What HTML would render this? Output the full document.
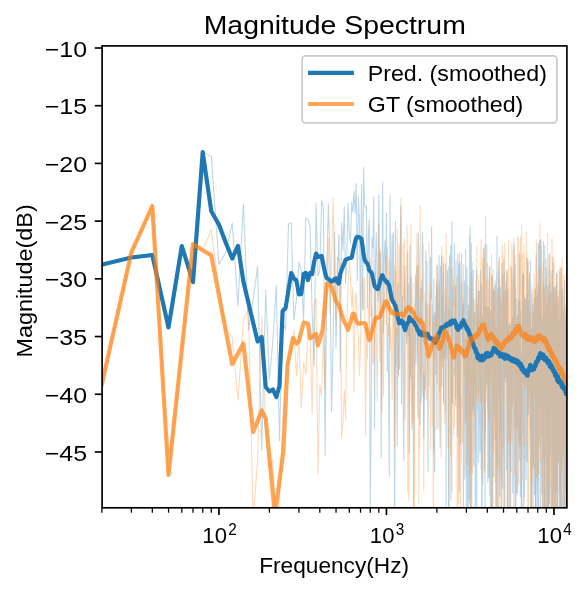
<!DOCTYPE html>
<html><head><meta charset="utf-8"><style>
html,body{margin:0;padding:0;background:#fff;width:587px;height:591px;overflow:hidden}
svg{display:block;will-change:transform}
.t{font-family:"Liberation Sans",sans-serif;font-size:22.1px;fill:#000}
.ts{font-family:"Liberation Sans",sans-serif;font-size:16.5px;fill:#000}
.title{font-family:"Liberation Sans",sans-serif;font-size:26.5px;fill:#000}
</style></head><body>
<svg width="587" height="591" viewBox="0 0 587 591">
<defs><clipPath id="ax"><rect x="102.1" y="45.9" width="464.8" height="461.9"/></clipPath></defs>
<g clip-path="url(#ax)">
<path d="M51.5 264.6 L101.9 264.6 L131.4 257.5 L152.3 255.0 L168.5 327.5 L181.8 246.0 L193.0 282.0 L202.7 152.1 L211.3 156.4 L219.0 264.4 L225.9 252.0 L232.2 223.1 L238.0 305.8 L243.4 203.9 L248.5 330.0 L253.2 300.0 L257.6 266.4 L261.7 449.9 L265.7 290.1 L269.4 380.0 L272.9 340.0 L276.3 285.5 L279.5 440.8 L282.6 320.0 L285.6 330.0 L288.5 224.0 L291.2 222.7 L293.9 320.0 L296.4 300.0 L298.9 262.0 L301.3 269.7 L303.6 321.1 L305.8 217.6 L308.0 219.3 L310.1 226.9 L312.1 311.1 L314.1 365.8 L316.1 203.2 L318.0 276.4 L319.8 270.0 L321.6 199.9 L323.4 208.3 L325.1 455.0 L326.7 272.7 L328.4 203.7 L330.0 257.5 L331.5 411.8 L333.1 344.6 L334.6 232.2 L336.0 348.0 L337.5 275.5 L338.9 234.5 L340.3 371.3 L341.6 222.7 L343.0 250.3 L344.3 207.1 L345.6 283.5 L346.8 259.8 L348.1 203.3 L349.3 232.1 L350.5 243.3 L351.7 202.1 L352.8 212.2 L354.0 191.4 L355.1 213.2 L356.2 183.6 L357.3 280.6 L358.4 197.8 L359.5 222.8 L360.5 324.2 L361.5 183.9 L362.6 309.2 L363.6 167.4 L364.6 204.6 L365.5 208.2 L366.5 206.2 L367.4 308.6 L368.4 231.3 L369.3 219.9 L370.2 505.9 L371.1 426.5 L372.0 237.5 L372.9 248.0 L373.8 196.6 L374.6 428.4 L375.5 261.5 L376.3 232.5 L377.2 280.7 L378.0 301.5 L378.8 194.9 L379.6 292.0 L380.4 252.4 L381.2 458.0 L382.0 291.0 L382.7 182.3 L383.5 332.2 L384.2 256.4 L385.0 240.8 L385.7 272.3 L386.5 212.3 L387.2 371.6 L387.9 323.9 L388.6 383.4 L389.3 476.4 L390.0 194.4 L390.7 300.5 L391.4 283.6 L392.1 234.3 L392.7 300.7 L393.4 232.1 L394.1 371.8 L394.7 572.2 L395.4 221.1 L396.0 363.9 L396.6 328.4 L397.3 445.5 L397.9 283.2 L398.5 374.8 L399.1 315.4 L399.7 368.8 L400.3 244.6 L400.9 206.1 L401.5 403.8 L402.1 316.2 L402.7 296.1 L403.3 419.7 L403.8 460.3 L404.4 288.0 L405.0 266.0 L405.5 324.1 L406.1 332.2 L406.7 343.8 L407.2 325.9 L407.8 252.1 L408.3 335.7 L408.8 283.7 L409.4 453.0 L409.9 245.1 L410.4 378.3 L410.9 277.1 L411.5 367.8 L412.0 429.0 L412.5 331.0 L413.0 318.3 L413.5 508.9 L414.0 386.6 L414.5 387.4 L415.0 325.5 L415.5 275.1 L416.0 364.0 L416.4 299.7 L416.9 265.7 L417.4 335.8 L417.9 417.3 L418.3 232.7 L418.8 257.0 L419.3 336.9 L419.7 313.4 L420.2 425.0 L420.7 288.1 L421.1 402.7 L421.6 385.7 L422.0 319.4 L422.4 232.1 L422.9 396.5 L423.3 372.1 L423.8 437.2 L424.2 375.5 L424.6 400.2 L425.1 375.0 L425.5 311.8 L425.9 250.6 L426.3 343.8 L426.8 261.3 L427.2 327.7 L427.6 360.0 L428.0 471.9 L428.4 384.6 L428.8 349.2 L429.2 332.5 L429.6 303.8 L430.0 333.1 L430.4 257.4 L430.8 276.1 L431.2 298.3 L431.6 227.1 L432.0 300.5 L432.4 304.9 L432.8 352.4 L433.2 317.5 L433.5 450.4 L433.9 278.5 L434.3 458.2 L434.7 471.9 L435.0 312.7 L435.4 325.5 L435.8 374.4 L436.2 311.5 L436.5 284.3 L436.9 428.8 L437.2 265.6 L437.6 310.5 L438.0 335.7 L438.3 301.8 L438.7 307.7 L439.0 255.6 L439.4 316.7 L439.7 372.5 L440.1 446.7 L440.4 266.0 L440.8 361.1 L441.1 278.8 L441.5 255.5 L441.8 386.0 L442.1 294.5 L442.5 356.8 L442.8 325.5 L443.2 272.9 L443.5 403.8 L443.8 263.7 L444.1 355.7 L444.5 320.8 L444.8 358.6 L445.1 310.8 L445.5 352.3 L445.8 263.4 L446.1 522.4 L446.4 359.8 L446.7 303.2 L447.0 323.3 L447.4 271.0 L447.7 350.6 L448.0 357.5 L448.3 266.4 L448.6 555.7 L448.9 347.6 L449.2 309.5 L449.5 310.2 L449.8 327.8 L450.1 256.4 L450.4 308.6 L450.7 245.3 L451.0 500.2 L451.3 393.5 L451.6 297.0 L451.9 221.4 L452.2 386.5 L452.5 403.5 L452.8 376.7 L453.1 287.2 L453.4 305.2 L453.7 279.0 L454.0 296.1 L454.3 243.0 L454.6 308.3 L454.8 374.6 L455.1 285.1 L455.4 358.1 L455.7 406.3 L456.0 260.8 L456.2 346.1 L456.5 336.1 L456.8 332.4 L457.1 367.0 L457.4 436.7 L457.6 362.3 L457.9 254.0 L458.2 352.2 L458.4 398.6 L458.7 264.3 L459.0 443.8 L459.3 492.1 L459.5 400.7 L459.8 262.1 L460.0 291.4 L460.3 443.8 L460.6 399.4 L460.8 391.5 L461.1 295.3 L461.4 270.2 L461.6 253.5 L461.9 328.0 L462.1 306.5 L462.4 313.5 L462.6 350.6 L462.9 316.0 L463.2 303.8 L463.4 535.7 L463.7 411.8 L463.9 299.8 L464.2 479.5 L464.4 280.8 L464.7 350.4 L464.9 291.5 L465.2 348.0 L465.4 422.9 L465.6 249.4 L465.9 335.8 L466.1 348.7 L466.4 508.4 L466.6 309.6 L466.9 267.4 L467.1 371.2 L467.3 318.3 L467.6 551.6 L467.8 416.2 L468.1 513.0 L468.3 340.0 L468.5 305.4 L468.8 316.2 L469.0 500.3 L469.2 465.8 L469.5 235.3 L469.7 422.3 L469.9 473.0 L470.2 227.0 L470.4 293.6 L470.6 282.1 L470.8 623.9 L471.1 465.6 L471.3 243.5 L471.5 279.0 L471.8 507.0 L472.0 261.7 L472.2 289.6 L472.4 410.6 L472.6 411.3 L472.9 350.0 L473.1 406.9 L473.3 270.1 L473.5 364.9 L473.8 465.8 L474.0 327.0 L474.2 357.1 L474.4 312.5 L474.6 313.3 L474.8 364.5 L475.1 404.6 L475.3 568.4 L475.5 482.0 L475.7 303.8 L475.9 377.1 L476.1 280.5 L476.3 394.3 L476.5 270.1 L476.8 572.6 L477.0 414.3 L477.2 376.6 L477.4 312.8 L477.6 364.0 L477.8 304.5 L478.0 305.3 L478.2 319.1 L478.4 291.0 L478.6 462.1 L478.8 299.0 L479.0 424.8 L479.2 323.4 L479.4 291.3 L479.6 325.6 L479.8 353.3 L480.0 452.1 L480.2 395.6 L480.4 270.4 L480.6 414.0 L480.8 421.3 L481.0 422.2 L481.2 469.5 L481.4 443.5 L481.6 283.4 L481.8 664.7 L482.0 414.0 L482.2 505.1 L482.4 316.1 L482.6 434.6 L482.8 484.8 L483.0 451.7 L483.2 398.0 L483.4 315.1 L483.6 247.8 L483.8 398.5 L484.0 312.0 L484.1 410.1 L484.3 351.0 L484.5 468.2 L484.7 346.9 L484.9 244.6 L485.1 512.9 L485.3 335.2 L485.5 441.2 L485.6 417.7 L485.8 386.1 L486.0 305.4 L486.2 326.7 L486.4 363.0 L486.6 329.3 L486.8 244.8 L486.9 380.2 L487.1 384.2 L487.3 378.4 L487.5 307.6 L487.7 423.2 L487.8 482.2 L488.0 379.0 L488.2 307.1 L488.4 312.5 L488.6 477.7 L488.7 339.9 L488.9 477.4 L489.1 419.3 L489.3 288.5 L489.5 405.9 L489.6 266.6 L489.8 495.1 L490.0 342.2 L490.2 362.1 L490.3 392.2 L490.5 527.9 L490.7 311.4 L490.9 434.9 L491.0 419.1 L491.2 331.6 L491.4 312.1 L491.5 514.8 L491.7 275.2 L491.9 304.6 L492.1 299.6 L492.2 371.9 L492.4 276.3 L492.6 341.1 L492.7 412.2 L492.9 527.6 L493.1 351.4 L493.2 288.4 L493.4 368.0 L493.6 476.6 L493.7 401.2 L493.9 372.3 L494.1 297.6 L494.2 291.1 L494.4 371.6 L494.6 300.6 L494.7 414.2 L494.9 338.8 L495.1 394.6 L495.2 439.0 L495.4 284.5 L495.5 335.6 L495.7 289.5 L495.9 515.6 L496.0 372.7 L496.2 532.9 L496.4 289.1 L496.5 272.2 L496.7 326.2 L496.8 316.5 L497.0 235.9 L497.2 371.8 L497.3 458.6 L497.5 507.5 L497.6 550.2 L497.8 335.6 L497.9 288.2 L498.1 560.7 L498.3 294.9 L498.4 339.0 L498.6 373.4 L498.7 269.0 L498.9 364.4 L499.0 307.5 L499.2 394.4 L499.3 257.3 L499.5 404.2 L499.7 497.1 L499.8 484.1 L500.0 369.3 L500.1 377.4 L500.3 293.3 L500.4 286.6 L500.6 370.8 L500.7 302.1 L500.9 388.7 L501.0 437.6 L501.2 391.6 L501.3 476.3 L501.5 345.9 L501.6 473.7 L501.8 580.4 L501.9 263.2 L502.1 378.4 L502.2 333.1 L502.4 282.4 L502.5 422.4 L502.7 489.2 L502.8 369.2 L503.0 274.7 L503.1 430.2 L503.2 287.7 L503.4 401.2 L503.5 319.8 L503.7 296.0 L503.8 259.3 L504.0 736.2 L504.1 397.2 L504.3 271.7 L504.4 373.7 L504.5 381.9 L504.7 375.4 L504.8 356.7 L505.0 313.3 L505.1 376.9 L505.3 353.2 L505.4 311.6 L505.5 291.3 L505.7 299.6 L505.8 346.0 L506.0 323.1 L506.1 382.5 L506.3 354.4 L506.4 279.9 L506.5 299.9 L506.7 469.4 L506.8 347.6 L506.9 274.6 L507.1 269.4 L507.2 448.1 L507.4 382.9 L507.5 521.1 L507.6 338.4 L507.8 290.6 L507.9 498.4 L508.1 518.4 L508.2 461.1 L508.3 369.5 L508.5 353.5 L508.6 361.1 L508.7 365.7 L508.9 325.8 L509.0 385.7 L509.1 352.4 L509.3 323.0 L509.4 459.2 L509.5 334.1 L509.7 515.1 L509.8 523.0 L509.9 518.6 L510.1 325.1 L510.2 485.1 L510.3 347.4 L510.5 430.5 L510.6 331.3 L510.7 390.2 L510.9 471.6 L511.0 429.0 L511.1 381.9 L511.3 426.1 L511.4 354.8 L511.5 322.9 L511.7 366.9 L511.8 268.3 L511.9 303.5 L512.0 283.9 L512.2 340.0 L512.3 403.3 L512.4 327.4 L512.6 369.6 L512.7 382.5 L512.8 492.9 L512.9 319.8 L513.1 393.3 L513.2 317.0 L513.3 386.4 L513.5 329.4 L513.6 364.1 L513.7 323.7 L513.8 275.7 L514.0 560.8 L514.1 330.8 L514.2 245.1 L514.3 345.0 L514.5 316.0 L514.6 379.7 L514.7 426.8 L514.8 308.6 L515.0 264.4 L515.1 358.9 L515.2 283.1 L515.3 425.6 L515.5 337.3 L515.6 344.6 L515.7 524.5 L515.8 522.1 L515.9 299.9 L516.1 298.5 L516.2 495.1 L516.3 487.7 L516.4 362.3 L516.6 334.0 L516.7 341.3 L516.8 478.0 L516.9 462.7 L517.0 451.1 L517.2 442.9 L517.3 492.8 L517.4 314.8 L517.5 339.2 L517.6 493.1 L517.8 472.4 L517.9 390.2 L518.0 319.4 L518.1 403.9 L518.2 446.7 L518.4 302.6 L518.5 322.8 L518.6 371.6 L518.7 299.4 L518.8 372.4 L519.0 443.4 L519.1 343.0 L519.2 359.8 L519.3 299.9 L519.4 379.9 L519.5 459.7 L519.7 337.0 L519.8 255.0 L519.9 331.0 L520.0 385.8 L520.1 310.4 L520.2 372.4 L520.3 496.8 L520.5 370.3 L520.6 333.7 L520.7 377.1 L520.8 311.3 L520.9 452.1 L521.0 358.2 L521.2 490.4 L521.3 447.2 L521.4 517.5 L521.5 372.0 L521.6 355.1 L521.7 459.4 L521.8 442.7 L521.9 364.9 L522.1 435.2 L522.2 362.9 L522.3 353.2 L522.4 399.5 L522.5 275.5 L522.6 402.5 L522.7 287.7 L522.8 318.2 L523.0 302.6 L523.1 338.3 L523.2 601.2 L523.3 442.7 L523.4 273.3 L523.5 281.1 L523.6 274.8 L523.7 737.3 L523.8 423.9 L524.0 296.0 L524.1 424.0 L524.2 495.3 L524.3 384.6 L524.4 382.9 L524.5 362.6 L524.6 496.8 L524.7 316.8 L524.8 336.9 L524.9 428.3 L525.0 408.9 L525.2 299.2 L525.3 402.8 L525.4 436.2 L525.5 460.8 L525.6 364.1 L525.7 344.8 L525.8 376.7 L525.9 315.2 L526.0 397.3 L526.1 479.8 L526.2 334.7 L526.3 294.6 L526.4 322.9 L526.5 354.4 L526.7 421.5 L526.8 361.3 L526.9 462.2 L527.0 426.5 L527.1 258.1 L527.2 461.3 L527.3 372.2 L527.4 325.0 L527.5 417.5 L527.6 333.7 L527.7 391.3 L527.8 257.7 L527.9 366.7 L528.0 282.7 L528.1 305.9 L528.2 387.4 L528.3 408.6 L528.4 313.0 L528.5 299.9 L528.6 414.3 L528.7 375.5 L528.8 399.8 L528.9 377.1 L529.0 351.4 L529.1 392.2 L529.3 366.8 L529.4 339.5 L529.5 320.7 L529.6 273.1 L529.7 325.3 L529.8 314.8 L529.9 380.8 L530.0 338.1 L530.1 324.6 L530.2 428.6 L530.3 259.9 L530.4 340.5 L530.5 329.9 L530.6 345.3 L530.7 472.7 L530.8 282.8 L530.9 382.8 L531.0 417.7 L531.1 546.9 L531.2 345.7 L531.3 416.2 L531.4 440.5 L531.5 514.4 L531.6 583.5 L531.7 550.5 L531.8 328.3 L531.9 554.9 L532.0 564.0 L532.1 444.4 L532.2 330.5 L532.3 427.2 L532.4 453.0 L532.4 378.5 L532.5 330.6 L532.6 318.1 L532.7 304.2 L532.8 370.7 L532.9 394.4 L533.0 408.2 L533.1 466.7 L533.2 324.9 L533.3 311.8 L533.4 339.4 L533.5 409.1 L533.6 315.0 L533.7 458.1 L533.8 318.7 L533.9 347.0 L534.0 411.3 L534.1 467.2 L534.2 298.0 L534.3 494.5 L534.4 414.1 L534.5 340.5 L534.6 338.7 L534.7 486.8 L534.8 395.7 L534.9 441.7 L534.9 376.5 L535.0 400.6 L535.1 334.9 L535.2 289.7 L535.3 338.7 L535.4 517.8 L535.5 334.4 L535.6 381.0 L535.7 429.7 L535.8 292.9 L535.9 325.6 L536.0 595.0 L536.1 284.4 L536.2 253.7 L536.3 490.2 L536.4 322.7 L536.4 409.4 L536.5 379.2 L536.6 367.6 L536.7 413.9 L536.8 311.9 L536.9 441.9 L537.0 393.4 L537.1 369.2 L537.2 358.1 L537.3 296.9 L537.4 362.6 L537.5 340.7 L537.5 570.4 L537.6 391.8 L537.7 292.4 L537.8 292.9 L537.9 431.7 L538.0 283.8 L538.1 356.0 L538.2 306.8 L538.3 313.4 L538.4 474.0 L538.5 712.1 L538.5 316.3 L538.6 243.4 L538.7 395.5 L538.8 449.0 L538.9 398.5 L539.0 301.1 L539.1 291.3 L539.2 404.8 L539.3 270.4 L539.3 293.1 L539.4 397.2 L539.5 373.4 L539.6 240.9 L539.7 304.0 L539.8 339.6 L539.9 240.4 L540.0 295.7 L540.1 442.2 L540.1 319.5 L540.2 315.6 L540.3 548.4 L540.4 321.1 L540.5 239.6 L540.6 337.8 L540.7 633.0 L540.8 305.6 L540.8 340.3 L540.9 239.9 L541.0 335.8 L541.1 426.5 L541.2 291.6 L541.3 344.5 L541.4 304.4 L541.4 477.0 L541.5 318.8 L541.6 365.7 L541.7 396.5 L541.8 410.9 L541.9 331.5 L542.0 493.8 L542.1 365.7 L542.1 333.3 L542.2 486.9 L542.3 431.7 L542.4 317.6 L542.5 331.6 L542.6 354.1 L542.6 367.3 L542.7 383.1 L542.8 336.7 L542.9 358.7 L543.0 605.3 L543.1 271.6 L543.2 304.0 L543.2 302.7 L543.3 385.7 L543.4 241.4 L543.5 322.1 L543.6 403.8 L543.7 287.9 L543.7 591.9 L543.8 404.7 L543.9 400.5 L544.0 536.0 L544.1 451.8 L544.2 452.9 L544.2 384.1 L544.3 385.9 L544.4 376.2 L544.5 312.6 L544.6 339.0 L544.7 334.3 L544.7 391.1 L544.8 245.3 L544.9 563.9 L545.0 342.3 L545.1 384.1 L545.2 586.5 L545.2 458.4 L545.3 399.5 L545.4 605.2 L545.5 317.9 L545.6 470.8 L545.6 513.5 L545.7 509.5 L545.8 380.4 L545.9 473.7 L546.0 322.7 L546.1 277.9 L546.1 411.9 L546.2 268.0 L546.3 340.3 L546.4 449.5 L546.5 564.4 L546.5 358.8 L546.6 431.7 L546.7 364.4 L546.8 410.4 L546.9 350.7 L546.9 310.9 L547.0 313.5 L547.1 585.7 L547.2 373.7 L547.3 452.8 L547.3 304.7 L547.4 445.4 L547.5 525.6 L547.6 394.7 L547.7 361.6 L547.7 286.1 L547.8 317.7 L547.9 326.9 L548.0 321.9 L548.1 358.4 L548.1 350.4 L548.2 365.7 L548.3 332.9 L548.4 368.1 L548.4 381.6 L548.5 560.1 L548.6 627.6 L548.7 382.8 L548.8 357.9 L548.8 270.7 L548.9 447.1 L549.0 440.4 L549.1 265.5 L549.1 306.6 L549.2 254.7 L549.3 267.7 L549.4 399.0 L549.5 396.6 L549.5 458.3 L549.6 314.4 L549.7 349.0 L549.8 503.8 L549.8 299.7 L549.9 432.3 L550.0 283.6 L550.1 429.9 L550.2 373.2 L550.2 313.2 L550.3 387.9 L550.4 361.7 L550.5 383.6 L550.5 455.3 L550.6 323.5 L550.7 361.2 L550.8 362.6 L550.8 293.5 L550.9 297.2 L551.0 356.3 L551.1 391.0 L551.1 357.2 L551.2 387.9 L551.3 400.7 L551.4 558.7 L551.4 311.6 L551.5 350.1 L551.6 290.9 L551.7 361.2 L551.7 420.9 L551.8 379.5 L551.9 274.6 L552.0 532.6 L552.0 402.3 L552.1 329.4 L552.2 381.6 L552.3 270.1 L552.3 397.9 L552.4 339.3 L552.5 377.6 L552.6 380.6 L552.6 461.5 L552.7 419.5 L552.8 383.1 L552.9 256.7 L552.9 315.6 L553.0 327.3 L553.1 609.2 L553.2 288.2 L553.2 455.3 L553.3 396.3 L553.4 339.0 L553.4 329.1 L553.5 324.0 L553.6 287.8 L553.7 622.9 L553.7 382.7 L553.8 492.1 L553.9 368.3 L554.0 362.4 L554.0 315.0 L554.1 317.2 L554.2 559.8 L554.3 348.2 L554.3 363.5 L554.4 406.1 L554.5 385.3 L554.5 292.0 L554.6 373.9 L554.7 287.3 L554.8 383.1 L554.8 412.5 L554.9 306.9 L555.0 491.0 L555.0 362.3 L555.1 431.2 L555.2 430.7 L555.3 445.9 L555.3 289.9 L555.4 616.5 L555.5 316.8 L555.5 328.9 L555.6 331.8 L555.7 332.2 L555.8 307.0 L555.8 396.0 L555.9 473.0 L556.0 364.3 L556.0 360.7 L556.1 360.4 L556.2 285.8 L556.3 387.9 L556.3 423.3 L556.4 355.2 L556.5 492.1 L556.5 327.6 L556.6 458.3 L556.7 468.2 L556.7 273.5 L556.8 323.7 L556.9 427.2 L557.0 444.7 L557.0 714.7 L557.1 391.0 L557.2 346.9 L557.2 432.3 L557.3 300.1 L557.4 387.7 L557.4 346.3 L557.5 430.4 L557.6 334.1 L557.6 461.4 L557.7 317.2 L557.8 516.1 L557.9 400.9 L557.9 297.0 L558.0 309.8 L558.1 301.4 L558.1 321.0 L558.2 392.3 L558.3 360.3 L558.3 328.1 L558.4 397.4 L558.5 347.6 L558.5 375.9 L558.6 345.2 L558.7 462.3 L558.7 382.7 L558.8 322.5 L558.9 364.1 L558.9 326.4 L559.0 331.2 L559.1 392.4 L559.2 319.6 L559.2 334.0 L559.3 344.4 L559.4 585.8 L559.4 598.4 L559.5 337.0 L559.6 438.4 L559.6 427.7 L559.7 290.1 L559.8 363.2 L559.8 271.8 L559.9 346.7 L560.0 512.1 L560.0 556.8 L560.1 568.7 L560.2 620.1 L560.2 406.2 L560.3 336.3 L560.4 445.2 L560.4 408.3 L560.5 317.8 L560.6 316.4 L560.6 547.6 L560.7 417.9 L560.8 381.0 L560.8 335.3 L560.9 353.8 L561.0 497.8 L561.0 397.4 L561.1 374.7 L561.2 267.9 L561.2 378.4 L561.3 384.3 L561.4 337.6 L561.4 311.7 L561.5 378.3 L561.6 521.3 L561.6 345.5 L561.7 511.0 L561.7 370.8 L561.8 384.2 L561.9 362.9 L561.9 291.7 L562.0 302.6 L562.1 400.6 L562.1 533.9 L562.2 395.2 L562.3 328.4 L562.3 354.9 L562.4 359.4 L562.5 322.2 L562.5 391.8 L562.6 289.2 L562.7 310.1 L562.7 296.2 L562.8 374.9 L562.9 353.1 L562.9 495.0 L563.0 353.2 L563.0 505.8 L563.1 308.9 L563.2 394.7 L563.2 485.8 L563.3 387.3 L563.4 541.2 L563.4 421.9 L563.5 462.1 L563.6 311.6 L563.6 330.2 L563.7 440.2 L563.7 370.6 L563.8 391.2 L563.9 334.7 L563.9 330.9 L564.0 463.0 L564.1 473.1 L564.1 442.9 L564.2 554.2 L564.3 330.5 L564.3 341.7 L564.4 382.7 L564.4 281.1 L564.5 449.7 L564.6 375.0 L564.6 361.8 L564.7 425.1 L564.8 355.7 L564.8 319.1 L564.9 563.3 L564.9 393.8 L565.0 391.3 L565.1 401.3 L565.1 429.0 L565.2 419.7 L565.3 350.1 L565.3 538.1 L565.4 443.7 L565.4 360.5 L565.5 402.8 L565.6 493.9 L565.6 389.8 L565.7 518.4 L565.8 557.6 L565.8 358.5 L565.9 306.0 L565.9 389.3 L566.0 356.0 L566.1 448.3 L566.1 572.5 L566.2 389.4 L566.2 376.8 L566.3 347.5 L566.4 575.2 L566.4 755.8 L566.5 400.8 L566.6 391.2 L566.6 385.0 L566.7 356.8 L566.7 304.9 L566.8 383.0 L566.9 340.0 L566.9 507.6 L567.0 278.1 L567.0 297.3 L567.1 502.7 L567.2 372.1 L567.2 347.2" fill="none" stroke="#1f77b4" stroke-opacity="0.3" stroke-width="1.04" stroke-linejoin="round"/>
<path d="M51.5 384.0 L101.9 384.0 L131.4 252.3 L152.3 206.0 L168.5 475.0 L181.8 349.8 L193.0 244.0 L202.7 250.3 L211.3 229.5 L219.0 290.0 L225.9 330.0 L232.2 337.0 L238.0 400.0 L243.4 320.7 L248.5 308.4 L253.2 520.0 L257.6 460.0 L261.7 317.1 L265.7 430.0 L269.4 470.0 L272.9 460.0 L276.3 540.0 L279.5 500.0 L282.6 420.0 L285.6 380.0 L288.5 360.0 L291.2 350.0 L293.9 330.0 L296.4 376.0 L298.9 335.0 L301.3 408.1 L303.6 362.0 L305.8 374.6 L308.0 334.5 L310.1 334.2 L312.1 413.6 L314.1 305.0 L316.1 298.5 L318.0 474.0 L319.8 385.0 L321.6 395.6 L323.4 333.2 L325.1 388.7 L326.7 289.7 L328.4 238.1 L330.0 313.4 L331.5 269.8 L333.1 197.6 L334.6 272.4 L336.0 319.3 L337.5 257.2 L338.9 259.4 L340.3 263.7 L341.6 438.4 L343.0 421.7 L344.3 390.0 L345.6 419.5 L346.8 328.8 L348.1 283.6 L349.3 262.7 L350.5 279.3 L351.7 308.3 L352.8 287.7 L354.0 392.3 L355.1 297.7 L356.2 292.5 L357.3 330.6 L358.4 335.5 L359.5 375.5 L360.5 348.9 L361.5 286.0 L362.6 277.9 L363.6 310.0 L364.6 276.9 L365.5 434.9 L366.5 323.3 L367.4 358.8 L368.4 312.9 L369.3 294.3 L370.2 259.3 L371.1 315.8 L372.0 308.2 L372.9 364.0 L373.8 361.3 L374.6 326.1 L375.5 271.8 L376.3 333.0 L377.2 401.8 L378.0 287.4 L378.8 223.8 L379.6 361.6 L380.4 249.2 L381.2 357.2 L382.0 410.8 L382.7 299.4 L383.5 395.8 L384.2 300.2 L385.0 288.3 L385.7 255.4 L386.5 324.4 L387.2 247.5 L387.9 259.3 L388.6 335.8 L389.3 260.6 L390.0 349.9 L390.7 327.5 L391.4 344.2 L392.1 399.8 L392.7 304.3 L393.4 317.4 L394.1 266.0 L394.7 446.7 L395.4 397.6 L396.0 270.8 L396.6 336.3 L397.3 229.3 L397.9 278.6 L398.5 377.8 L399.1 244.1 L399.7 316.1 L400.3 281.5 L400.9 198.2 L401.5 241.9 L402.1 319.8 L402.7 309.5 L403.3 243.5 L403.8 299.9 L404.4 238.7 L405.0 420.7 L405.5 395.9 L406.1 336.4 L406.7 268.5 L407.2 225.3 L407.8 491.1 L408.3 325.7 L408.8 500.6 L409.4 311.5 L409.9 402.5 L410.4 370.5 L410.9 224.1 L411.5 310.9 L412.0 335.7 L412.5 422.8 L413.0 282.7 L413.5 365.6 L414.0 309.6 L414.5 551.7 L415.0 303.2 L415.5 306.4 L416.0 296.3 L416.4 270.1 L416.9 233.3 L417.4 322.1 L417.9 356.5 L418.3 265.0 L418.8 504.0 L419.3 408.6 L419.7 446.9 L420.2 205.5 L420.7 377.2 L421.1 339.5 L421.6 280.8 L422.0 295.4 L422.4 300.7 L422.9 284.5 L423.3 244.6 L423.8 490.5 L424.2 292.1 L424.6 380.1 L425.1 389.2 L425.5 359.3 L425.9 302.5 L426.3 399.3 L426.8 394.9 L427.2 331.4 L427.6 304.6 L428.0 313.8 L428.4 323.7 L428.8 332.1 L429.2 241.9 L429.6 386.0 L430.0 291.2 L430.4 449.0 L430.8 283.6 L431.2 324.3 L431.6 305.4 L432.0 426.8 L432.4 322.2 L432.8 368.7 L433.2 474.6 L433.5 581.0 L433.9 314.4 L434.3 344.8 L434.7 358.8 L435.0 350.4 L435.4 343.3 L435.8 295.9 L436.2 347.7 L436.5 283.5 L436.9 265.0 L437.2 384.4 L437.6 287.7 L438.0 317.1 L438.3 314.7 L438.7 429.0 L439.0 287.6 L439.4 281.3 L439.7 391.8 L440.1 332.2 L440.4 371.7 L440.8 403.5 L441.1 457.1 L441.5 332.0 L441.8 245.8 L442.1 273.5 L442.5 366.3 L442.8 278.9 L443.2 256.4 L443.5 400.8 L443.8 392.6 L444.1 321.4 L444.5 423.3 L444.8 415.7 L445.1 290.0 L445.5 411.3 L445.8 308.4 L446.1 233.6 L446.4 292.2 L446.7 311.6 L447.0 338.0 L447.4 359.4 L447.7 356.6 L448.0 447.5 L448.3 433.2 L448.6 339.1 L448.9 299.0 L449.2 650.5 L449.5 254.5 L449.8 269.4 L450.1 358.7 L450.4 346.6 L450.7 454.7 L451.0 353.3 L451.3 442.2 L451.6 312.2 L451.9 492.1 L452.2 267.6 L452.5 333.9 L452.8 302.6 L453.1 302.2 L453.4 434.6 L453.7 368.8 L454.0 367.3 L454.3 427.7 L454.6 401.2 L454.8 389.1 L455.1 287.5 L455.4 291.7 L455.7 397.6 L456.0 335.1 L456.2 331.0 L456.5 301.6 L456.8 276.1 L457.1 483.4 L457.4 707.4 L457.6 344.5 L457.9 326.0 L458.2 367.0 L458.4 503.8 L458.7 347.7 L459.0 349.8 L459.3 251.9 L459.5 408.3 L459.8 385.0 L460.0 331.9 L460.3 525.8 L460.6 568.4 L460.8 406.9 L461.1 396.2 L461.4 461.9 L461.6 409.8 L461.9 426.3 L462.1 282.7 L462.4 359.5 L462.6 442.5 L462.9 293.9 L463.2 308.5 L463.4 264.6 L463.7 299.9 L463.9 336.6 L464.2 360.1 L464.4 375.6 L464.7 343.0 L464.9 338.5 L465.2 431.5 L465.4 469.1 L465.6 443.3 L465.9 477.3 L466.1 412.0 L466.4 350.8 L466.6 319.4 L466.9 419.6 L467.1 419.5 L467.3 387.0 L467.6 285.4 L467.8 464.4 L468.1 311.6 L468.3 410.6 L468.5 310.7 L468.8 330.6 L469.0 413.6 L469.2 402.9 L469.5 503.5 L469.7 287.8 L469.9 328.6 L470.2 391.9 L470.4 384.1 L470.6 515.9 L470.8 359.0 L471.1 304.9 L471.3 272.8 L471.5 352.7 L471.8 277.3 L472.0 469.1 L472.2 368.1 L472.4 473.4 L472.6 396.7 L472.9 403.8 L473.1 335.1 L473.3 318.5 L473.5 298.5 L473.8 408.6 L474.0 330.7 L474.2 334.9 L474.4 417.0 L474.6 344.7 L474.8 299.0 L475.1 451.3 L475.3 365.8 L475.5 339.6 L475.7 364.4 L475.9 378.8 L476.1 369.1 L476.3 360.0 L476.5 395.9 L476.8 246.6 L477.0 373.0 L477.2 409.6 L477.4 296.7 L477.6 309.2 L477.8 348.6 L478.0 323.4 L478.2 274.4 L478.4 401.6 L478.6 374.6 L478.8 280.8 L479.0 392.9 L479.2 343.7 L479.4 379.8 L479.6 324.2 L479.8 319.2 L480.0 374.2 L480.2 348.8 L480.4 312.8 L480.6 402.8 L480.8 258.7 L481.0 247.1 L481.2 239.6 L481.4 384.4 L481.6 316.0 L481.8 402.2 L482.0 478.3 L482.2 335.9 L482.4 258.4 L482.6 320.3 L482.8 292.4 L483.0 264.1 L483.2 296.6 L483.4 306.3 L483.6 301.8 L483.8 393.4 L484.0 249.8 L484.1 338.0 L484.3 434.1 L484.5 333.3 L484.7 472.4 L484.9 254.7 L485.1 393.4 L485.3 424.6 L485.5 429.6 L485.6 216.2 L485.8 325.4 L486.0 401.5 L486.2 329.2 L486.4 341.3 L486.6 355.9 L486.8 387.6 L486.9 278.7 L487.1 387.1 L487.3 344.4 L487.5 320.9 L487.7 263.0 L487.8 409.6 L488.0 371.4 L488.2 277.6 L488.4 318.9 L488.6 421.0 L488.7 285.1 L488.9 281.9 L489.1 293.0 L489.3 477.2 L489.5 287.5 L489.6 267.4 L489.8 443.2 L490.0 332.5 L490.2 313.0 L490.3 370.9 L490.5 381.6 L490.7 315.5 L490.9 285.7 L491.0 293.6 L491.2 272.9 L491.4 368.2 L491.5 254.1 L491.7 277.7 L491.9 316.0 L492.1 658.1 L492.2 339.9 L492.4 561.9 L492.6 309.3 L492.7 427.3 L492.9 377.8 L493.1 269.4 L493.2 349.1 L493.4 358.7 L493.6 337.7 L493.7 327.3 L493.9 452.3 L494.1 287.3 L494.2 367.0 L494.4 369.0 L494.6 377.9 L494.7 339.3 L494.9 398.3 L495.1 280.2 L495.2 482.4 L495.4 368.1 L495.5 407.2 L495.7 429.0 L495.9 399.0 L496.0 327.8 L496.2 626.8 L496.4 514.3 L496.5 407.9 L496.7 349.4 L496.8 318.4 L497.0 293.7 L497.2 407.3 L497.3 459.1 L497.5 336.0 L497.6 417.2 L497.8 467.5 L497.9 381.0 L498.1 330.0 L498.3 365.8 L498.4 419.5 L498.6 408.0 L498.7 261.0 L498.9 330.8 L499.0 392.1 L499.2 557.6 L499.3 321.4 L499.5 277.8 L499.7 279.2 L499.8 441.8 L500.0 466.3 L500.1 338.5 L500.3 312.8 L500.4 297.4 L500.6 400.3 L500.7 484.1 L500.9 369.3 L501.0 527.9 L501.2 468.9 L501.3 355.6 L501.5 453.2 L501.6 302.7 L501.8 355.8 L501.9 356.2 L502.1 245.8 L502.2 310.1 L502.4 348.0 L502.5 314.9 L502.7 253.4 L502.8 290.9 L503.0 308.4 L503.1 297.2 L503.2 448.0 L503.4 340.6 L503.5 313.6 L503.7 339.6 L503.8 292.8 L504.0 455.6 L504.1 362.1 L504.3 333.2 L504.4 254.9 L504.5 563.4 L504.7 299.7 L504.8 243.3 L505.0 513.4 L505.1 507.0 L505.3 302.3 L505.4 283.5 L505.5 439.6 L505.7 316.1 L505.8 333.8 L506.0 365.3 L506.1 381.8 L506.3 375.1 L506.4 290.2 L506.5 271.6 L506.7 341.6 L506.8 285.3 L506.9 274.7 L507.1 404.9 L507.2 363.8 L507.4 300.7 L507.5 653.3 L507.6 299.0 L507.8 407.5 L507.9 413.7 L508.1 273.5 L508.2 293.2 L508.3 271.6 L508.5 442.8 L508.6 240.1 L508.7 304.2 L508.9 437.7 L509.0 322.3 L509.1 294.1 L509.3 401.2 L509.4 313.5 L509.5 351.5 L509.7 423.1 L509.8 317.9 L509.9 287.5 L510.1 453.5 L510.2 562.4 L510.3 446.2 L510.5 342.6 L510.6 265.9 L510.7 516.4 L510.9 406.6 L511.0 347.8 L511.1 422.6 L511.3 348.7 L511.4 332.1 L511.5 443.1 L511.7 244.1 L511.8 381.1 L511.9 289.2 L512.0 440.1 L512.2 280.3 L512.3 289.4 L512.4 309.9 L512.6 405.9 L512.7 384.4 L512.8 368.4 L512.9 341.0 L513.1 249.5 L513.2 401.0 L513.3 259.1 L513.5 305.0 L513.6 346.2 L513.7 355.9 L513.8 237.4 L514.0 243.7 L514.1 266.1 L514.2 309.5 L514.3 329.6 L514.5 373.6 L514.6 272.3 L514.7 474.9 L514.8 334.7 L515.0 255.3 L515.1 379.4 L515.2 307.3 L515.3 378.2 L515.5 460.7 L515.6 321.7 L515.7 695.6 L515.8 288.9 L515.9 440.9 L516.1 324.0 L516.2 351.3 L516.3 381.0 L516.4 358.5 L516.6 424.2 L516.7 361.0 L516.8 327.7 L516.9 426.9 L517.0 316.5 L517.2 347.4 L517.3 430.0 L517.4 276.3 L517.5 235.8 L517.6 304.6 L517.8 367.0 L517.9 307.8 L518.0 395.2 L518.1 287.5 L518.2 238.0 L518.4 285.5 L518.5 334.2 L518.6 297.3 L518.7 483.4 L518.8 253.8 L519.0 439.2 L519.1 429.8 L519.2 295.3 L519.3 396.5 L519.4 440.6 L519.5 331.8 L519.7 250.1 L519.8 423.3 L519.9 261.8 L520.0 360.0 L520.1 446.3 L520.2 338.2 L520.3 318.6 L520.5 237.0 L520.6 442.2 L520.7 324.6 L520.8 353.4 L520.9 353.8 L521.0 318.2 L521.2 470.3 L521.3 378.4 L521.4 511.7 L521.5 369.9 L521.6 225.1 L521.7 255.6 L521.8 398.7 L521.9 479.4 L522.1 301.4 L522.2 272.2 L522.3 285.0 L522.4 279.8 L522.5 253.7 L522.6 270.9 L522.7 326.8 L522.8 379.4 L523.0 382.9 L523.1 354.3 L523.2 321.3 L523.3 340.1 L523.4 358.1 L523.5 286.6 L523.6 330.2 L523.7 356.4 L523.8 243.2 L524.0 326.8 L524.1 274.6 L524.2 445.4 L524.3 252.8 L524.4 355.3 L524.5 316.3 L524.6 302.6 L524.7 304.1 L524.8 302.2 L524.9 298.8 L525.0 376.7 L525.2 337.6 L525.3 386.3 L525.4 337.4 L525.5 303.3 L525.6 363.3 L525.7 331.4 L525.8 325.6 L525.9 312.5 L526.0 386.5 L526.1 321.3 L526.2 302.1 L526.3 231.5 L526.4 330.4 L526.5 320.9 L526.7 251.8 L526.8 256.6 L526.9 330.1 L527.0 300.3 L527.1 321.9 L527.2 445.4 L527.3 284.4 L527.4 455.5 L527.5 265.5 L527.6 337.1 L527.7 600.6 L527.8 362.9 L527.9 449.6 L528.0 343.2 L528.1 261.4 L528.2 310.0 L528.3 350.6 L528.4 298.3 L528.5 366.4 L528.6 522.7 L528.7 359.1 L528.8 418.4 L528.9 388.6 L529.0 287.2 L529.1 275.4 L529.3 448.8 L529.4 418.1 L529.5 411.5 L529.6 313.7 L529.7 334.0 L529.8 416.2 L529.9 416.9 L530.0 415.1 L530.1 330.9 L530.2 321.2 L530.3 311.6 L530.4 384.0 L530.5 388.6 L530.6 461.8 L530.7 556.3 L530.8 329.0 L530.9 356.7 L531.0 426.3 L531.1 351.3 L531.2 385.5 L531.3 665.8 L531.4 439.7 L531.5 294.5 L531.6 481.7 L531.7 361.9 L531.8 357.6 L531.9 359.8 L532.0 415.0 L532.1 327.2 L532.2 376.3 L532.3 468.9 L532.4 420.6 L532.4 482.4 L532.5 295.2 L532.6 289.3 L532.7 349.5 L532.8 475.4 L532.9 403.0 L533.0 340.3 L533.1 309.4 L533.2 347.0 L533.3 534.9 L533.4 353.9 L533.5 424.6 L533.6 362.3 L533.7 335.4 L533.8 284.2 L533.9 316.6 L534.0 469.9 L534.1 273.7 L534.2 344.5 L534.3 388.0 L534.4 291.8 L534.5 291.1 L534.6 387.3 L534.7 327.6 L534.8 318.3 L534.9 382.6 L534.9 395.5 L535.0 350.9 L535.1 316.0 L535.2 309.2 L535.3 381.6 L535.4 288.0 L535.5 356.0 L535.6 549.4 L535.7 379.4 L535.8 365.4 L535.9 399.2 L536.0 426.0 L536.1 382.0 L536.2 277.7 L536.3 427.2 L536.4 353.1 L536.4 239.4 L536.5 323.0 L536.6 478.1 L536.7 335.4 L536.8 394.2 L536.9 351.3 L537.0 419.0 L537.1 243.0 L537.2 286.0 L537.3 367.5 L537.4 345.0 L537.5 302.6 L537.5 366.5 L537.6 318.0 L537.7 483.8 L537.8 438.8 L537.9 357.9 L538.0 290.4 L538.1 293.5 L538.2 393.0 L538.3 304.6 L538.4 367.7 L538.5 345.1 L538.5 283.5 L538.6 334.5 L538.7 418.5 L538.8 473.9 L538.9 267.3 L539.0 384.4 L539.1 443.7 L539.2 346.5 L539.3 295.2 L539.3 267.5 L539.4 351.9 L539.5 287.7 L539.6 412.8 L539.7 440.8 L539.8 319.5 L539.9 223.6 L540.0 283.0 L540.1 345.3 L540.1 311.6 L540.2 359.2 L540.3 461.3 L540.4 291.1 L540.5 269.5 L540.6 362.0 L540.7 313.0 L540.8 428.3 L540.8 394.2 L540.9 338.1 L541.0 398.0 L541.1 281.8 L541.2 314.7 L541.3 302.3 L541.4 434.1 L541.4 410.8 L541.5 246.1 L541.6 275.6 L541.7 405.2 L541.8 383.1 L541.9 295.7 L542.0 374.3 L542.1 297.4 L542.1 281.0 L542.2 324.7 L542.3 295.1 L542.4 396.2 L542.5 341.2 L542.6 632.1 L542.6 867.7 L542.7 418.3 L542.8 319.5 L542.9 316.3 L543.0 405.6 L543.1 262.3 L543.2 379.5 L543.2 339.9 L543.3 315.9 L543.4 330.2 L543.5 457.6 L543.6 291.1 L543.7 340.1 L543.7 344.6 L543.8 335.6 L543.9 284.9 L544.0 339.6 L544.1 357.7 L544.2 292.9 L544.2 307.4 L544.3 367.3 L544.4 296.5 L544.5 506.6 L544.6 390.8 L544.7 397.5 L544.7 512.9 L544.8 362.2 L544.9 353.2 L545.0 303.5 L545.1 328.0 L545.2 306.2 L545.2 325.9 L545.3 299.3 L545.4 276.9 L545.5 373.0 L545.6 294.4 L545.6 399.6 L545.7 354.9 L545.8 259.6 L545.9 354.0 L546.0 456.0 L546.1 289.4 L546.1 339.2 L546.2 349.1 L546.3 363.7 L546.4 310.2 L546.5 364.9 L546.5 300.5 L546.6 373.3 L546.7 295.6 L546.8 469.8 L546.9 482.8 L546.9 327.2 L547.0 274.5 L547.1 533.0 L547.2 258.8 L547.3 319.4 L547.3 369.0 L547.4 314.9 L547.5 341.6 L547.6 323.7 L547.7 233.0 L547.7 356.6 L547.8 314.3 L547.9 295.9 L548.0 345.6 L548.1 525.8 L548.1 306.2 L548.2 374.4 L548.3 346.9 L548.4 300.9 L548.4 300.8 L548.5 427.1 L548.6 386.7 L548.7 295.8 L548.8 295.0 L548.8 368.1 L548.9 328.1 L549.0 384.8 L549.1 308.9 L549.1 333.8 L549.2 707.3 L549.3 372.6 L549.4 349.2 L549.5 279.9 L549.5 375.3 L549.6 364.8 L549.7 261.9 L549.8 487.7 L549.8 268.7 L549.9 337.0 L550.0 293.1 L550.1 253.6 L550.2 298.3 L550.2 309.1 L550.3 363.0 L550.4 272.4 L550.5 276.7 L550.5 271.4 L550.6 376.6 L550.7 356.6 L550.8 328.5 L550.8 348.0 L550.9 370.5 L551.0 567.0 L551.1 463.8 L551.1 463.2 L551.2 475.5 L551.3 366.7 L551.4 330.6 L551.4 312.4 L551.5 402.3 L551.6 349.1 L551.7 304.3 L551.7 327.7 L551.8 368.7 L551.9 371.1 L552.0 238.8 L552.0 331.7 L552.1 320.5 L552.2 298.9 L552.3 347.6 L552.3 287.3 L552.4 430.3 L552.5 371.6 L552.6 398.9 L552.6 673.2 L552.7 330.5 L552.8 288.6 L552.9 262.5 L552.9 422.6 L553.0 359.1 L553.1 377.5 L553.2 323.0 L553.2 496.5 L553.3 289.2 L553.4 333.5 L553.4 296.1 L553.5 396.7 L553.6 487.6 L553.7 419.5 L553.7 469.1 L553.8 482.2 L553.9 331.3 L554.0 327.1 L554.0 483.1 L554.1 258.6 L554.2 337.3 L554.3 325.0 L554.3 330.9 L554.4 625.3 L554.5 562.5 L554.5 342.7 L554.6 567.0 L554.7 301.2 L554.8 388.8 L554.8 397.8 L554.9 487.4 L555.0 312.2 L555.0 472.5 L555.1 505.4 L555.2 305.3 L555.3 325.0 L555.3 335.8 L555.4 355.3 L555.5 348.3 L555.5 318.0 L555.6 438.9 L555.7 525.4 L555.8 370.6 L555.8 413.5 L555.9 286.8 L556.0 341.6 L556.0 296.1 L556.1 310.9 L556.2 321.2 L556.3 356.0 L556.3 332.9 L556.4 525.1 L556.5 274.3 L556.5 425.5 L556.6 327.0 L556.7 351.3 L556.7 283.1 L556.8 421.9 L556.9 454.1 L557.0 417.3 L557.0 398.3 L557.1 403.2 L557.2 310.6 L557.2 473.8 L557.3 358.3 L557.4 349.0 L557.4 667.9 L557.5 293.0 L557.6 346.8 L557.6 435.3 L557.7 270.6 L557.8 369.5 L557.9 404.5 L557.9 380.6 L558.0 376.3 L558.1 435.1 L558.1 461.6 L558.2 460.7 L558.3 441.3 L558.3 336.5 L558.4 421.5 L558.5 355.1 L558.5 405.2 L558.6 329.4 L558.7 296.5 L558.7 314.1 L558.8 336.0 L558.9 305.2 L558.9 339.8 L559.0 290.3 L559.1 329.2 L559.2 380.1 L559.2 408.8 L559.3 485.8 L559.4 345.5 L559.4 481.0 L559.5 492.5 L559.6 474.6 L559.6 367.6 L559.7 483.2 L559.8 267.2 L559.8 338.4 L559.9 331.6 L560.0 500.1 L560.0 317.2 L560.1 390.5 L560.2 398.3 L560.2 325.3 L560.3 555.6 L560.4 360.6 L560.4 433.2 L560.5 388.0 L560.6 390.0 L560.6 392.6 L560.7 436.0 L560.8 372.4 L560.8 267.6 L560.9 522.1 L561.0 294.2 L561.0 565.1 L561.1 407.7 L561.2 348.8 L561.2 378.3 L561.3 365.5 L561.4 320.5 L561.4 390.5 L561.5 284.5 L561.6 281.3 L561.6 398.1 L561.7 325.7 L561.7 369.4 L561.8 371.4 L561.9 425.9 L561.9 364.6 L562.0 335.8 L562.1 470.2 L562.1 395.6 L562.2 257.8 L562.3 348.8 L562.3 369.9 L562.4 406.9 L562.5 418.1 L562.5 278.6 L562.6 351.5 L562.7 450.9 L562.7 302.7 L562.8 340.2 L562.9 404.1 L562.9 274.2 L563.0 436.6 L563.0 308.5 L563.1 422.6 L563.2 391.8 L563.2 389.9 L563.3 302.5 L563.4 357.3 L563.4 318.6 L563.5 369.1 L563.6 405.4 L563.6 456.8 L563.7 311.6 L563.7 296.6 L563.8 404.9 L563.9 327.8 L563.9 326.4 L564.0 385.3 L564.1 398.3 L564.1 393.8 L564.2 386.1 L564.3 509.1 L564.3 275.6 L564.4 591.2 L564.4 344.9 L564.5 301.9 L564.6 370.0 L564.6 303.5 L564.7 428.5 L564.8 364.4 L564.8 341.9 L564.9 388.4 L564.9 311.2 L565.0 446.3 L565.1 417.0 L565.1 460.1 L565.2 428.2 L565.3 390.8 L565.3 353.3 L565.4 490.9 L565.4 350.0 L565.5 316.3 L565.6 347.8 L565.6 355.8 L565.7 365.9 L565.8 316.6 L565.8 323.5 L565.9 322.3 L565.9 466.6 L566.0 356.4 L566.1 320.3 L566.1 279.8 L566.2 309.5 L566.2 334.4 L566.3 436.8 L566.4 739.0 L566.4 453.1 L566.5 417.4 L566.6 467.3 L566.6 453.0 L566.7 441.0 L566.7 418.9 L566.8 420.6 L566.9 352.4 L566.9 414.9 L567.0 472.5 L567.0 387.2 L567.1 327.3 L567.2 291.0 L567.2 695.5" fill="none" stroke="#ff7f0e" stroke-opacity="0.3" stroke-width="1.04" stroke-linejoin="round"/>
<path d="M101.9 264.6 L131.4 257.5 L152.3 255.0 L168.5 327.5 L181.8 246.0 L193.0 282.0 L202.7 152.1 L211.3 211.2 L219.0 224.8 L225.9 243.0 L232.2 258.5 L238.0 246.0 L243.4 281.5 L257.6 341.5 L261.7 337.0 L265.7 387.0 L269.4 391.5 L272.9 389.5 L276.3 397.0 L279.5 386.0 L282.6 311.0 L285.6 308.0 L291.2 273.0 L293.9 278.5 L296.4 280.5 L298.9 294.5 L301.3 294.0 L303.6 274.0 L305.8 273.0 L308.0 280.0 L310.1 273.0 L312.1 274.0 L314.1 262.0 L316.1 253.5 L318.0 257.0 L319.8 256.5 L321.6 256.0 L323.4 265.0 L325.1 273.0 L326.7 278.0 L328.4 279.0 L330.0 280.3 L331.5 281.6 L333.1 280.8 L334.6 278.9 L336.0 278.4 L337.5 282.4 L338.9 283.5 L340.3 273.9 L341.6 269.9 L343.0 266.2 L344.3 263.3 L345.6 259.8 L346.8 259.2 L348.1 258.7 L349.3 258.2 L350.5 258.0 L351.7 257.7 L352.8 252.1 L354.0 246.8 L355.1 241.8 L356.2 237.9 L357.3 236.9 L358.4 236.8 L359.5 237.4 L360.5 238.0 L361.5 239.1 L362.6 246.6 L363.6 254.7 L364.6 259.6 L365.5 261.3 L366.5 262.8 L367.4 263.6 L368.4 266.4 L369.3 270.3 L370.2 271.4 L371.1 271.8 L372.0 273.8 L372.9 278.2 L373.8 282.0 L374.6 285.9 L375.5 287.3 L376.3 288.0 L377.2 289.1 L378.0 288.9 L378.8 286.6 L379.6 283.5 L380.4 280.2 L381.2 278.0 L382.0 275.3 L382.7 275.3 L383.5 277.7 L384.2 278.9 L385.0 280.2 L385.7 281.1 L386.5 282.2 L387.2 281.8 L387.9 283.5 L388.6 284.2 L389.3 286.0 L390.0 290.3 L390.7 293.3 L391.4 297.0 L392.1 299.6 L392.7 301.1 L393.4 302.4 L394.1 302.9 L394.7 304.8 L395.4 305.5 L396.0 308.2 L396.6 310.8 L397.3 314.9 L397.9 317.8 L398.5 320.4 L399.1 323.3 L399.7 323.2 L400.3 323.1 L400.9 320.6 L401.5 321.7 L402.1 321.0 L402.7 321.6 L403.3 323.2 L403.8 326.8 L404.4 327.4 L405.0 330.1 L405.5 329.1 L406.1 325.8 L406.7 325.2 L407.2 323.1 L407.8 322.7 L408.3 322.2 L408.8 321.1 L409.4 317.2 L409.9 318.0 L410.4 319.4 L410.9 320.6 L411.5 320.3 L412.0 320.1 L412.5 321.3 L413.0 321.6 L413.5 322.0 L414.0 322.2 L414.5 323.6 L415.0 324.6 L415.5 325.2 L416.0 326.1 L416.4 326.3 L416.9 327.8 L417.4 330.0 L417.9 329.9 L418.3 329.9 L418.8 332.9 L419.3 333.0 L419.7 334.3 L420.2 332.9 L420.7 332.6 L421.1 332.0 L421.6 334.3 L422.0 335.4 L422.4 332.9 L422.9 333.2 L423.3 334.3 L423.8 333.3 L424.2 333.9 L424.6 333.9 L425.1 334.5 L425.5 335.4 L425.9 334.6 L426.3 335.5 L426.8 334.5 L427.2 335.3 L427.6 333.6 L428.0 334.5 L428.4 336.8 L428.8 336.0 L429.2 337.3 L429.6 337.7 L430.0 338.7 L430.4 338.6 L430.8 339.2 L431.2 338.6 L431.6 338.4 L432.0 338.8 L432.4 339.3 L432.8 339.1 L433.2 340.0 L433.5 340.7 L433.9 341.4 L434.3 341.2 L434.7 340.1 L435.0 342.1 L435.4 342.7 L435.8 342.5 L436.2 341.2 L436.5 339.2 L436.9 338.2 L437.2 339.8 L437.6 337.8 L438.0 337.9 L438.3 337.2 L438.7 333.7 L439.0 333.9 L439.4 333.1 L439.7 332.4 L440.1 331.5 L440.4 330.3 L440.8 329.5 L441.1 327.5 L441.5 328.5 L441.8 327.7 L442.1 328.3 L442.5 327.5 L442.8 328.3 L443.2 328.2 L443.5 327.6 L443.8 327.4 L444.1 326.9 L444.5 326.2 L444.8 326.3 L445.1 325.8 L445.5 326.3 L445.8 325.8 L446.1 326.1 L446.4 324.2 L446.7 325.9 L447.0 324.2 L447.4 324.1 L447.7 324.3 L448.0 323.8 L448.3 324.4 L448.6 323.4 L448.9 322.8 L449.2 322.8 L449.5 324.6 L449.8 323.3 L450.1 322.0 L450.4 322.9 L450.7 321.3 L451.0 324.1 L451.3 321.0 L451.6 322.6 L451.9 322.5 L452.2 320.5 L452.5 321.9 L452.8 322.4 L453.1 321.7 L453.4 321.4 L453.7 321.8 L454.0 320.9 L454.3 320.9 L454.6 320.5 L454.8 322.0 L455.1 321.4 L455.4 323.7 L455.7 323.4 L456.0 323.6 L456.2 325.7 L456.5 327.7 L456.8 327.8 L457.1 327.2 L457.4 329.1 L457.6 328.8 L457.9 329.9 L458.2 329.7 L458.4 327.1 L458.7 328.9 L459.0 327.4 L459.3 327.3 L459.5 326.2 L459.8 325.7 L460.0 325.8 L460.3 327.0 L460.6 327.4 L460.8 325.4 L461.1 326.0 L461.4 324.4 L461.6 322.5 L461.9 324.0 L462.1 323.9 L462.4 322.7 L462.6 322.9 L462.9 322.8 L463.2 321.1 L463.4 320.2 L463.7 321.8 L463.9 322.2 L464.2 322.6 L464.4 324.2 L464.7 325.3 L464.9 323.9 L465.2 325.3 L465.4 326.0 L465.6 326.2 L465.9 326.9 L466.1 326.1 L466.4 327.6 L466.6 329.1 L466.9 328.5 L467.1 327.6 L467.3 329.2 L467.6 330.2 L467.8 329.8 L468.1 329.4 L468.3 331.9 L468.5 330.1 L468.8 332.3 L469.0 332.5 L469.2 332.1 L469.5 334.9 L469.7 334.8 L469.9 334.1 L470.2 336.3 L470.4 336.0 L470.6 335.3 L470.8 337.0 L471.1 338.5 L471.3 339.5 L471.5 339.7 L471.8 340.2 L472.0 341.3 L472.2 341.3 L472.4 343.1 L472.6 342.8 L472.9 343.6 L473.1 344.4 L473.3 343.6 L473.5 344.5 L473.8 347.2 L474.0 346.7 L474.2 346.8 L474.4 347.9 L474.6 347.8 L474.8 349.1 L475.1 348.7 L475.3 350.1 L475.5 348.9 L475.7 352.0 L475.9 350.8 L476.1 350.3 L476.3 352.0 L476.5 352.3 L476.8 353.3 L477.0 352.6 L477.2 354.4 L477.4 357.8 L477.6 353.8 L477.8 355.7 L478.0 355.6 L478.2 356.5 L478.4 355.2 L478.6 356.0 L478.8 357.5 L479.0 357.1 L479.2 358.7 L479.4 356.6 L479.6 357.5 L479.8 360.0 L480.0 356.8 L480.2 356.7 L480.4 357.5 L480.6 357.6 L480.8 358.4 L481.0 357.9 L481.2 357.1 L481.4 358.1 L481.6 360.3 L481.8 359.1 L482.0 355.5 L482.2 358.0 L482.4 357.4 L482.6 358.8 L482.8 358.1 L483.0 360.1 L483.2 359.2 L483.4 359.2 L483.6 358.7 L483.8 358.3 L484.0 358.4 L484.1 359.1 L484.3 358.2 L484.5 357.2 L484.7 358.5 L484.9 357.3 L485.1 356.9 L485.3 356.1 L485.5 356.1 L485.6 355.8 L485.8 353.7 L486.0 356.9 L486.2 356.3 L486.4 355.4 L486.6 356.4 L486.8 355.6 L486.9 355.4 L487.1 352.8 L487.3 354.8 L487.5 355.6 L487.7 356.5 L487.8 356.8 L488.0 356.4 L488.2 354.1 L488.4 353.2 L488.6 355.7 L488.7 355.3 L488.9 356.1 L489.1 355.2 L489.3 355.5 L489.5 354.0 L489.6 355.8 L489.8 355.0 L490.0 355.8 L490.2 355.9 L490.3 355.4 L490.5 355.6 L490.7 355.0 L490.9 355.4 L491.0 354.9 L491.2 353.7 L491.4 353.4 L491.5 355.2 L491.7 353.3 L491.9 354.0 L492.1 353.2 L492.2 352.0 L492.4 351.6 L492.6 352.1 L492.7 351.9 L492.9 352.0 L493.1 350.0 L493.2 350.3 L493.4 350.5 L493.6 351.8 L493.7 347.9 L493.9 350.2 L494.1 349.0 L494.2 349.6 L494.4 348.5 L494.6 349.0 L494.7 349.9 L494.9 349.1 L495.1 349.4 L495.2 349.5 L495.4 348.7 L495.5 350.1 L495.7 349.6 L495.9 349.3 L496.0 350.2 L496.2 350.2 L496.4 351.3 L496.5 350.8 L496.7 350.6 L496.8 352.5 L497.0 352.3 L497.2 352.8 L497.3 352.4 L497.5 351.9 L497.6 351.9 L497.8 352.2 L497.9 353.5 L498.1 353.0 L498.3 351.7 L498.4 353.2 L498.6 352.2 L498.7 353.8 L498.9 352.8 L499.0 352.9 L499.2 354.2 L499.3 354.1 L499.5 352.7 L499.7 355.0 L499.8 356.3 L500.0 353.1 L500.1 356.2 L500.3 354.0 L500.4 354.2 L500.6 354.6 L500.7 353.5 L500.9 356.1 L501.0 355.4 L501.2 354.4 L501.3 354.9 L501.5 353.8 L501.6 355.0 L501.8 356.2 L501.9 353.9 L502.1 355.1 L502.2 355.7 L502.4 356.6 L502.5 356.9 L502.7 355.4 L502.8 355.2 L503.0 356.3 L503.1 355.7 L503.2 355.8 L503.4 357.1 L503.5 357.7 L503.7 356.5 L503.8 356.2 L504.0 357.0 L504.1 354.8 L504.3 356.5 L504.4 355.6 L504.5 358.8 L504.7 357.3 L504.8 356.8 L505.0 356.5 L505.1 354.5 L505.3 357.4 L505.4 358.3 L505.5 356.2 L505.7 357.5 L505.8 357.6 L506.0 355.6 L506.1 357.8 L506.3 358.2 L506.4 357.3 L506.5 357.0 L506.7 357.8 L506.8 355.8 L506.9 357.3 L507.1 358.2 L507.2 356.1 L507.4 358.2 L507.5 356.9 L507.6 355.5 L507.8 357.3 L507.9 356.5 L508.1 357.7 L508.2 356.4 L508.3 358.5 L508.5 356.9 L508.6 358.0 L508.7 357.2 L508.9 357.5 L509.0 359.0 L509.1 358.2 L509.3 357.7 L509.4 357.0 L509.5 359.3 L509.7 359.0 L509.8 358.1 L509.9 358.7 L510.1 357.6 L510.2 357.7 L510.3 357.9 L510.5 359.1 L510.6 359.1 L510.7 358.2 L510.9 359.7 L511.0 359.8 L511.1 359.3 L511.3 360.2 L511.4 359.0 L511.5 359.3 L511.7 359.9 L511.8 359.5 L511.9 360.3 L512.0 358.5 L512.2 361.0 L512.3 359.1 L512.4 359.8 L512.6 358.7 L512.7 360.6 L512.8 361.2 L512.9 361.1 L513.1 360.9 L513.2 358.8 L513.3 359.6 L513.5 359.9 L513.6 359.5 L513.7 361.4 L513.8 360.6 L514.0 360.5 L514.1 361.0 L514.2 359.8 L514.3 359.9 L514.5 359.9 L514.6 361.2 L514.7 361.1 L514.8 361.4 L515.0 361.9 L515.1 359.8 L515.2 360.5 L515.3 361.2 L515.5 359.9 L515.6 360.7 L515.7 362.1 L515.8 362.3 L515.9 362.3 L516.1 361.4 L516.2 361.2 L516.3 362.4 L516.4 361.2 L516.6 361.9 L516.7 362.8 L516.8 361.3 L516.9 361.1 L517.0 361.7 L517.2 362.3 L517.3 362.3 L517.4 362.0 L517.5 362.4 L517.6 360.5 L517.8 361.3 L517.9 362.4 L518.0 361.5 L518.1 361.3 L518.2 361.5 L518.4 361.9 L518.5 362.8 L518.6 362.1 L518.7 363.4 L518.8 364.9 L519.0 363.3 L519.1 364.8 L519.2 364.0 L519.3 362.9 L519.4 363.8 L519.5 363.3 L519.7 365.0 L519.8 363.4 L519.9 365.8 L520.0 365.2 L520.1 363.1 L520.2 365.8 L520.3 366.6 L520.5 364.7 L520.6 366.5 L520.7 364.1 L520.8 366.2 L520.9 364.6 L521.0 366.7 L521.2 364.9 L521.3 364.3 L521.4 367.2 L521.5 369.1 L521.6 366.6 L521.7 368.1 L521.8 367.6 L521.9 367.4 L522.1 368.4 L522.2 369.5 L522.3 367.1 L522.4 368.9 L522.5 368.9 L522.6 367.4 L522.7 370.4 L522.8 370.8 L523.0 368.4 L523.1 371.0 L523.2 369.6 L523.3 369.6 L523.4 371.3 L523.5 370.3 L523.6 370.6 L523.7 371.8 L523.8 371.8 L524.0 371.6 L524.1 369.7 L524.2 369.6 L524.3 372.2 L524.4 370.4 L524.5 371.5 L524.6 370.5 L524.7 371.4 L524.8 370.5 L524.9 373.2 L525.0 370.9 L525.2 371.8 L525.3 371.9 L525.4 373.2 L525.5 370.9 L525.6 372.3 L525.7 372.2 L525.8 373.0 L525.9 373.0 L526.0 372.3 L526.1 373.0 L526.2 372.5 L526.3 373.4 L526.4 373.0 L526.5 372.6 L526.7 373.2 L526.8 373.7 L526.9 375.5 L527.0 373.1 L527.1 373.9 L527.2 375.0 L527.3 371.9 L527.4 372.3 L527.5 372.9 L527.6 373.6 L527.7 375.6 L527.8 373.5 L527.9 373.9 L528.0 372.4 L528.1 370.1 L528.2 369.9 L528.3 372.6 L528.4 371.6 L528.5 370.0 L528.6 371.9 L528.7 369.2 L528.8 371.3 L528.9 371.3 L529.0 369.0 L529.1 368.4 L529.3 369.9 L529.4 367.9 L529.5 369.3 L529.6 367.2 L529.7 368.7 L529.8 367.8 L529.9 367.1 L530.0 366.4 L530.1 367.1 L530.2 364.9 L530.3 366.3 L530.4 366.2 L530.5 367.3 L530.6 365.6 L530.7 368.3 L530.8 366.6 L530.9 365.9 L531.0 368.2 L531.1 368.5 L531.2 366.9 L531.3 366.3 L531.4 367.2 L531.5 366.6 L531.6 367.0 L531.7 368.8 L531.8 367.8 L531.9 367.6 L532.0 367.8 L532.1 367.5 L532.2 368.4 L532.3 368.5 L532.4 367.4 L532.4 367.9 L532.5 370.1 L532.6 368.3 L532.7 367.8 L532.8 369.9 L532.9 368.1 L533.0 367.2 L533.1 368.8 L533.2 367.5 L533.3 367.9 L533.4 368.7 L533.5 368.3 L533.6 367.8 L533.7 367.8 L533.8 367.6 L533.9 368.9 L534.0 367.1 L534.1 367.0 L534.2 369.2 L534.3 366.6 L534.4 368.3 L534.5 367.9 L534.6 366.4 L534.7 365.1 L534.8 366.6 L534.9 366.6 L534.9 366.7 L535.0 365.7 L535.1 366.5 L535.2 366.5 L535.3 364.1 L535.4 366.1 L535.5 364.8 L535.6 363.9 L535.7 364.0 L535.8 365.8 L535.9 364.8 L536.0 362.1 L536.1 363.6 L536.2 363.2 L536.3 363.0 L536.4 362.5 L536.4 361.5 L536.5 363.4 L536.6 361.6 L536.7 361.9 L536.8 361.5 L536.9 361.2 L537.0 362.3 L537.1 361.8 L537.2 360.7 L537.3 360.3 L537.4 360.5 L537.5 361.6 L537.5 360.7 L537.6 360.6 L537.7 359.9 L537.8 359.8 L537.9 360.0 L538.0 358.0 L538.1 360.9 L538.2 358.6 L538.3 358.6 L538.4 360.1 L538.5 358.9 L538.5 358.6 L538.6 357.8 L538.7 356.8 L538.8 358.2 L538.9 358.9 L539.0 356.8 L539.1 358.7 L539.2 356.3 L539.3 356.4 L539.3 357.4 L539.4 356.7 L539.5 357.2 L539.6 355.7 L539.7 355.3 L539.8 354.3 L539.9 354.8 L540.0 354.7 L540.1 354.2 L540.1 355.6 L540.2 354.5 L540.3 353.2 L540.4 357.3 L540.5 354.4 L540.6 354.0 L540.7 356.3 L540.8 356.3 L540.8 354.3 L540.9 354.1 L541.0 354.5 L541.1 356.5 L541.2 355.3 L541.3 354.9 L541.4 355.6 L541.4 356.8 L541.5 354.5 L541.6 355.5 L541.7 354.6 L541.8 357.9 L541.9 357.6 L542.0 356.9 L542.1 356.0 L542.1 356.7 L542.2 354.3 L542.3 356.5 L542.4 355.1 L542.5 355.2 L542.6 355.8 L542.6 356.2 L542.7 357.0 L542.8 357.2 L542.9 356.9 L543.0 355.8 L543.1 357.3 L543.2 356.7 L543.2 357.9 L543.3 356.1 L543.4 354.5 L543.5 356.6 L543.6 359.0 L543.7 357.5 L543.7 357.0 L543.8 358.0 L543.9 357.7 L544.0 357.7 L544.1 356.9 L544.2 357.5 L544.2 357.6 L544.3 356.9 L544.4 356.6 L544.5 357.7 L544.6 358.5 L544.7 358.3 L544.7 358.2 L544.8 358.3 L544.9 360.2 L545.0 358.2 L545.1 358.9 L545.2 359.8 L545.2 358.2 L545.3 358.5 L545.4 359.3 L545.5 360.0 L545.6 358.9 L545.6 359.0 L545.7 358.9 L545.8 357.8 L545.9 360.0 L546.0 358.9 L546.1 357.6 L546.1 359.2 L546.2 357.8 L546.3 358.6 L546.4 359.6 L546.5 358.9 L546.5 360.8 L546.6 358.6 L546.7 360.2 L546.8 360.6 L546.9 361.5 L546.9 361.1 L547.0 360.6 L547.1 360.6 L547.2 360.6 L547.3 361.7 L547.3 360.2 L547.4 361.4 L547.5 360.9 L547.6 361.3 L547.7 361.0 L547.7 363.2 L547.8 360.8 L547.9 361.7 L548.0 361.9 L548.1 362.2 L548.1 362.2 L548.2 362.3 L548.3 362.9 L548.4 360.7 L548.4 362.2 L548.5 361.2 L548.6 362.6 L548.7 361.4 L548.8 361.7 L548.8 362.6 L548.9 364.0 L549.0 363.4 L549.1 363.2 L549.1 364.4 L549.2 362.4 L549.3 361.5 L549.4 363.1 L549.5 363.4 L549.5 364.9 L549.6 365.8 L549.7 362.8 L549.8 366.4 L549.8 365.7 L549.9 365.1 L550.0 364.8 L550.1 366.8 L550.2 364.8 L550.2 364.5 L550.3 365.1 L550.4 363.9 L550.5 365.7 L550.5 365.3 L550.6 365.8 L550.7 366.0 L550.8 364.8 L550.8 367.1 L550.9 365.1 L551.0 367.0 L551.1 364.9 L551.1 366.8 L551.2 365.8 L551.3 366.7 L551.4 366.2 L551.4 365.0 L551.5 366.0 L551.6 367.2 L551.7 367.9 L551.7 366.1 L551.8 365.6 L551.9 366.9 L552.0 367.6 L552.0 367.4 L552.1 367.3 L552.2 368.9 L552.3 369.2 L552.3 369.1 L552.4 367.7 L552.5 368.7 L552.6 368.6 L552.6 367.6 L552.7 369.8 L552.8 369.2 L552.9 368.8 L552.9 370.7 L553.0 370.2 L553.1 370.4 L553.2 370.9 L553.2 370.5 L553.3 368.9 L553.4 369.8 L553.4 371.2 L553.5 369.7 L553.6 370.5 L553.7 371.0 L553.7 372.0 L553.8 372.0 L553.9 371.8 L554.0 371.0 L554.0 372.1 L554.1 371.9 L554.2 371.5 L554.3 373.0 L554.3 372.4 L554.4 371.4 L554.5 373.4 L554.5 372.2 L554.6 373.1 L554.7 371.4 L554.8 372.9 L554.8 372.2 L554.9 372.3 L555.0 371.7 L555.0 375.5 L555.1 373.6 L555.2 374.1 L555.3 375.0 L555.3 374.1 L555.4 374.8 L555.5 373.3 L555.5 374.8 L555.6 374.4 L555.7 375.4 L555.8 375.3 L555.8 374.0 L555.9 373.7 L556.0 374.7 L556.0 376.4 L556.1 376.3 L556.2 376.4 L556.3 374.4 L556.3 373.9 L556.4 375.9 L556.5 376.4 L556.5 376.3 L556.6 377.3 L556.7 377.0 L556.7 376.2 L556.8 376.6 L556.9 377.7 L557.0 377.8 L557.0 377.8 L557.1 380.1 L557.2 378.0 L557.2 378.5 L557.3 377.6 L557.4 378.3 L557.4 379.2 L557.5 379.3 L557.6 378.7 L557.6 379.3 L557.7 379.1 L557.8 377.4 L557.9 376.3 L557.9 381.4 L558.0 380.1 L558.1 379.4 L558.1 378.0 L558.2 378.5 L558.3 381.0 L558.3 377.3 L558.4 379.6 L558.5 380.8 L558.5 380.2 L558.6 380.9 L558.7 380.1 L558.7 382.5 L558.8 379.5 L558.9 379.3 L558.9 380.9 L559.0 382.0 L559.1 380.7 L559.2 381.8 L559.2 380.5 L559.3 380.0 L559.4 382.4 L559.4 382.6 L559.5 382.7 L559.6 381.0 L559.6 380.4 L559.7 380.5 L559.8 381.4 L559.8 382.3 L559.9 382.3 L560.0 380.6 L560.0 382.2 L560.1 382.1 L560.2 382.2 L560.2 382.2 L560.3 382.1 L560.4 382.9 L560.4 382.6 L560.5 382.8 L560.6 382.0 L560.6 383.1 L560.7 382.7 L560.8 381.0 L560.8 383.4 L560.9 382.8 L561.0 384.0 L561.0 383.1 L561.1 383.3 L561.2 383.6 L561.2 383.5 L561.3 383.2 L561.4 382.1 L561.4 385.4 L561.5 382.4 L561.6 383.6 L561.6 384.6 L561.7 384.4 L561.7 384.7 L561.8 385.0 L561.9 385.5 L561.9 384.7 L562.0 387.1 L562.1 383.7 L562.1 385.0 L562.2 384.5 L562.3 384.5 L562.3 385.4 L562.4 386.5 L562.5 384.7 L562.5 384.8 L562.6 386.2 L562.7 386.2 L562.7 387.6 L562.8 386.9 L562.9 386.3 L562.9 385.9 L563.0 386.5 L563.0 386.2 L563.1 385.3 L563.2 386.6 L563.2 386.6 L563.3 386.7 L563.4 386.6 L563.4 388.6 L563.5 387.9 L563.6 388.2 L563.6 386.9 L563.7 386.7 L563.7 387.4 L563.8 388.0 L563.9 387.6 L563.9 387.9 L564.0 389.0 L564.1 388.5 L564.1 387.5 L564.2 388.1 L564.3 388.0 L564.3 388.9 L564.4 387.8 L564.4 388.8 L564.5 389.7 L564.6 389.2 L564.6 388.5 L564.7 388.9 L564.8 389.6 L564.8 390.1 L564.9 390.5 L564.9 389.7 L565.0 388.8 L565.1 391.4 L565.1 390.5 L565.2 390.7 L565.3 390.7 L565.3 389.6 L565.4 390.4 L565.4 391.0 L565.5 391.8 L565.6 391.1 L565.6 388.3 L565.7 391.0 L565.8 391.7 L565.8 392.6 L565.9 392.2 L565.9 393.9 L566.0 393.1 L566.1 393.1 L566.1 392.9 L566.2 390.9 L566.2 393.0 L566.3 392.9 L566.4 392.0 L566.4 393.1 L566.5 393.1 L566.6 392.4 L566.6 392.8 L566.7 392.8 L566.7 393.4 L566.8 392.9 L566.9 393.9 L566.9 391.8 L567.0 393.3 L567.0 392.2 L567.1 393.4 L567.2 394.4 L567.2 394.0" fill="none" stroke="#1f77b4" stroke-width="4.17" stroke-linejoin="round" stroke-linecap="square"/>
<path d="M101.9 384.0 L131.4 252.3 L152.3 206.0 L168.5 475.0 L193.0 244.0 L202.7 250.3 L211.3 255.4 L232.2 364.0 L243.4 343.5 L253.2 432.0 L261.7 410.5 L265.7 418.5 L274.9 515.0 L283.3 452.0 L285.8 400.0 L287.5 365.0 L293.0 338.0 L296.4 343.5 L298.9 341.0 L303.6 322.5 L308.0 323.5 L310.1 338.5 L314.1 335.5 L316.1 334.0 L318.0 345.5 L322.6 329.8 L326.8 283.5 L330.0 285.0 L331.5 287.0 L333.1 291.8 L334.6 296.6 L336.0 301.3 L337.5 303.3 L338.9 305.3 L340.3 309.8 L341.6 314.3 L343.0 318.8 L344.3 321.6 L345.6 324.4 L346.8 326.8 L348.1 329.8 L349.3 325.5 L350.5 321.9 L351.7 317.7 L352.8 313.7 L354.0 314.0 L355.1 317.3 L356.2 320.5 L357.3 323.3 L358.4 323.7 L359.5 323.6 L360.5 323.4 L361.5 323.3 L362.6 323.2 L363.6 323.0 L364.6 323.3 L365.5 323.9 L366.5 328.8 L367.4 332.4 L368.4 336.4 L369.3 340.1 L370.2 337.7 L371.1 334.2 L372.0 331.0 L372.9 327.3 L373.8 324.2 L374.6 321.6 L375.5 318.1 L376.3 317.5 L377.2 317.8 L378.0 317.1 L378.8 317.2 L379.6 316.9 L380.4 315.8 L381.2 313.0 L382.0 311.6 L382.7 309.9 L383.5 307.4 L384.2 305.8 L385.0 304.0 L385.7 301.3 L386.5 301.5 L387.2 303.3 L387.9 304.6 L388.6 306.3 L389.3 307.8 L390.0 309.9 L390.7 310.2 L391.4 311.5 L392.1 313.2 L392.7 312.7 L393.4 312.6 L394.1 313.2 L394.7 314.1 L395.4 314.3 L396.0 313.4 L396.6 313.4 L397.3 314.5 L397.9 314.4 L398.5 314.2 L399.1 314.5 L399.7 314.6 L400.3 313.8 L400.9 314.1 L401.5 313.6 L402.1 314.0 L402.7 315.4 L403.3 316.2 L403.8 315.5 L404.4 314.2 L405.0 313.2 L405.5 312.1 L406.1 309.4 L406.7 308.9 L407.2 308.6 L407.8 308.2 L408.3 307.1 L408.8 309.2 L409.4 308.5 L409.9 308.9 L410.4 309.5 L410.9 310.1 L411.5 308.9 L412.0 310.9 L412.5 310.9 L413.0 311.6 L413.5 313.2 L414.0 313.1 L414.5 315.4 L415.0 317.3 L415.5 317.0 L416.0 317.7 L416.4 318.1 L416.9 318.6 L417.4 319.7 L417.9 319.3 L418.3 319.5 L418.8 320.4 L419.3 321.9 L419.7 320.4 L420.2 321.4 L420.7 320.1 L421.1 322.7 L421.6 322.5 L422.0 323.4 L422.4 322.6 L422.9 324.0 L423.3 327.9 L423.8 330.2 L424.2 331.3 L424.6 333.1 L425.1 337.0 L425.5 338.9 L425.9 343.4 L426.3 343.1 L426.8 345.5 L427.2 348.1 L427.6 349.1 L428.0 352.0 L428.4 356.3 L428.8 355.2 L429.2 353.5 L429.6 351.7 L430.0 352.0 L430.4 350.8 L430.8 349.2 L431.2 347.5 L431.6 346.8 L432.0 345.7 L432.4 343.5 L432.8 343.5 L433.2 340.4 L433.5 340.3 L433.9 340.4 L434.3 339.9 L434.7 338.2 L435.0 338.8 L435.4 338.7 L435.8 337.4 L436.2 336.5 L436.5 336.3 L436.9 335.8 L437.2 336.4 L437.6 339.3 L438.0 342.6 L438.3 342.4 L438.7 345.5 L439.0 347.1 L439.4 348.6 L439.7 348.3 L440.1 348.2 L440.4 347.3 L440.8 346.1 L441.1 343.5 L441.5 343.4 L441.8 342.9 L442.1 342.3 L442.5 341.0 L442.8 340.0 L443.2 339.2 L443.5 337.8 L443.8 335.3 L444.1 335.0 L444.5 333.3 L444.8 330.7 L445.1 330.9 L445.5 334.8 L445.8 332.5 L446.1 332.0 L446.4 334.1 L446.7 336.5 L447.0 335.6 L447.4 336.6 L447.7 336.5 L448.0 337.2 L448.3 339.0 L448.6 339.1 L448.9 338.8 L449.2 340.7 L449.5 342.0 L449.8 342.0 L450.1 343.7 L450.4 344.8 L450.7 345.1 L451.0 347.9 L451.3 347.9 L451.6 348.6 L451.9 348.8 L452.2 350.3 L452.5 354.0 L452.8 352.7 L453.1 355.2 L453.4 355.6 L453.7 357.6 L454.0 357.3 L454.3 354.8 L454.6 354.0 L454.8 353.1 L455.1 351.9 L455.4 350.6 L455.7 349.1 L456.0 348.8 L456.2 348.2 L456.5 346.4 L456.8 345.5 L457.1 346.7 L457.4 346.6 L457.6 347.2 L457.9 348.7 L458.2 347.0 L458.4 347.4 L458.7 346.9 L459.0 347.6 L459.3 347.6 L459.5 349.7 L459.8 348.8 L460.0 348.3 L460.3 350.9 L460.6 348.4 L460.8 350.7 L461.1 351.2 L461.4 351.2 L461.6 350.8 L461.9 351.3 L462.1 351.5 L462.4 352.9 L462.6 350.4 L462.9 352.5 L463.2 353.4 L463.4 353.1 L463.7 352.4 L463.9 354.1 L464.2 354.0 L464.4 355.8 L464.7 356.7 L464.9 355.9 L465.2 354.4 L465.4 356.3 L465.6 354.9 L465.9 355.5 L466.1 355.6 L466.4 353.6 L466.6 354.4 L466.9 353.1 L467.1 351.6 L467.3 349.4 L467.6 349.6 L467.8 347.5 L468.1 348.9 L468.3 347.3 L468.5 347.7 L468.8 346.0 L469.0 343.2 L469.2 344.8 L469.5 344.3 L469.7 344.2 L469.9 341.1 L470.2 340.4 L470.4 340.5 L470.6 338.8 L470.8 337.9 L471.1 338.0 L471.3 341.2 L471.5 338.2 L471.8 337.7 L472.0 338.1 L472.2 338.3 L472.4 339.4 L472.6 338.9 L472.9 338.7 L473.1 337.9 L473.3 337.9 L473.5 337.0 L473.8 336.1 L474.0 339.2 L474.2 336.8 L474.4 338.0 L474.6 336.7 L474.8 336.8 L475.1 336.6 L475.3 335.4 L475.5 336.5 L475.7 336.8 L475.9 337.0 L476.1 336.6 L476.3 337.0 L476.5 336.0 L476.8 335.4 L477.0 333.3 L477.2 334.3 L477.4 335.8 L477.6 334.2 L477.8 334.5 L478.0 333.3 L478.2 332.6 L478.4 334.7 L478.6 332.9 L478.8 333.6 L479.0 332.4 L479.2 331.4 L479.4 329.3 L479.6 331.1 L479.8 329.3 L480.0 328.4 L480.2 331.2 L480.4 330.5 L480.6 330.1 L480.8 329.3 L481.0 328.9 L481.2 329.0 L481.4 328.5 L481.6 328.1 L481.8 328.4 L482.0 325.2 L482.2 328.0 L482.4 326.3 L482.6 327.3 L482.8 327.3 L483.0 325.2 L483.2 326.4 L483.4 326.1 L483.6 324.4 L483.8 325.1 L484.0 326.3 L484.1 324.8 L484.3 327.0 L484.5 328.2 L484.7 328.2 L484.9 327.8 L485.1 329.5 L485.3 331.8 L485.5 332.3 L485.6 331.6 L485.8 331.6 L486.0 332.9 L486.2 333.5 L486.4 333.5 L486.6 334.4 L486.8 335.8 L486.9 336.7 L487.1 334.3 L487.3 337.9 L487.5 337.8 L487.7 339.3 L487.8 338.8 L488.0 339.2 L488.2 340.1 L488.4 335.8 L488.6 339.7 L488.7 338.2 L488.9 336.2 L489.1 335.2 L489.3 337.7 L489.5 336.2 L489.6 337.9 L489.8 337.0 L490.0 336.4 L490.2 337.2 L490.3 336.3 L490.5 336.6 L490.7 336.5 L490.9 335.8 L491.0 336.0 L491.2 335.8 L491.4 333.9 L491.5 335.1 L491.7 335.5 L491.9 335.5 L492.1 334.6 L492.2 335.8 L492.4 336.8 L492.6 336.9 L492.7 338.4 L492.9 336.7 L493.1 337.1 L493.2 337.2 L493.4 337.7 L493.6 337.6 L493.7 336.7 L493.9 338.9 L494.1 339.8 L494.2 340.1 L494.4 338.4 L494.6 339.4 L494.7 341.5 L494.9 339.9 L495.1 340.6 L495.2 340.3 L495.4 341.6 L495.5 341.8 L495.7 343.2 L495.9 341.8 L496.0 341.9 L496.2 340.6 L496.4 341.5 L496.5 341.4 L496.7 341.9 L496.8 341.2 L497.0 343.6 L497.2 341.8 L497.3 343.1 L497.5 341.9 L497.6 343.5 L497.8 344.9 L497.9 342.8 L498.1 344.1 L498.3 343.9 L498.4 344.4 L498.6 344.7 L498.7 343.9 L498.9 344.5 L499.0 344.3 L499.2 344.2 L499.3 344.0 L499.5 346.2 L499.7 344.8 L499.8 346.2 L500.0 346.3 L500.1 345.1 L500.3 347.1 L500.4 345.5 L500.6 347.0 L500.7 348.0 L500.9 346.2 L501.0 346.1 L501.2 346.3 L501.3 349.4 L501.5 347.1 L501.6 346.2 L501.8 347.8 L501.9 346.7 L502.1 346.6 L502.2 345.5 L502.4 344.2 L502.5 345.3 L502.7 344.8 L502.8 344.1 L503.0 344.3 L503.1 344.2 L503.2 345.6 L503.4 345.3 L503.5 344.9 L503.7 343.7 L503.8 342.8 L504.0 344.0 L504.1 343.9 L504.3 344.2 L504.4 343.1 L504.5 342.8 L504.7 342.9 L504.8 341.6 L505.0 341.5 L505.1 342.6 L505.3 340.7 L505.4 341.5 L505.5 342.1 L505.7 341.4 L505.8 341.4 L506.0 339.9 L506.1 340.6 L506.3 340.4 L506.4 341.1 L506.5 340.8 L506.7 340.3 L506.8 341.9 L506.9 340.5 L507.1 339.7 L507.2 339.3 L507.4 339.7 L507.5 339.1 L507.6 341.0 L507.8 339.9 L507.9 339.0 L508.1 338.6 L508.2 338.1 L508.3 338.7 L508.5 340.0 L508.6 339.5 L508.7 338.6 L508.9 338.6 L509.0 336.7 L509.1 339.0 L509.3 338.0 L509.4 339.3 L509.5 337.8 L509.7 337.4 L509.8 337.9 L509.9 337.0 L510.1 338.7 L510.2 337.7 L510.3 337.6 L510.5 337.5 L510.6 336.8 L510.7 337.4 L510.9 337.0 L511.0 338.3 L511.1 336.6 L511.3 336.7 L511.4 335.8 L511.5 335.8 L511.7 335.7 L511.8 337.0 L511.9 335.7 L512.0 336.4 L512.2 335.1 L512.3 334.8 L512.4 333.3 L512.6 335.6 L512.7 336.6 L512.8 334.4 L512.9 335.7 L513.1 335.0 L513.2 333.5 L513.3 334.6 L513.5 333.0 L513.6 333.4 L513.7 334.6 L513.8 333.5 L514.0 332.1 L514.1 334.3 L514.2 331.9 L514.3 332.6 L514.5 332.3 L514.6 332.3 L514.7 331.5 L514.8 330.6 L515.0 333.6 L515.1 331.0 L515.2 330.8 L515.3 329.2 L515.5 331.3 L515.6 332.2 L515.7 332.1 L515.8 333.1 L515.9 331.8 L516.1 330.6 L516.2 330.0 L516.3 331.1 L516.4 329.6 L516.6 329.6 L516.7 328.4 L516.8 329.1 L516.9 330.6 L517.0 328.6 L517.2 328.8 L517.3 326.1 L517.4 329.3 L517.5 328.2 L517.6 328.9 L517.8 327.7 L517.9 326.5 L518.0 325.8 L518.1 327.3 L518.2 326.6 L518.4 325.6 L518.5 326.2 L518.6 325.5 L518.7 327.0 L518.8 326.4 L519.0 326.0 L519.1 327.3 L519.2 327.3 L519.3 329.4 L519.4 328.0 L519.5 327.6 L519.7 329.1 L519.8 329.2 L519.9 330.0 L520.0 330.3 L520.1 329.5 L520.2 330.8 L520.3 331.1 L520.5 330.4 L520.6 331.3 L520.7 332.3 L520.8 331.1 L520.9 331.9 L521.0 332.7 L521.2 333.3 L521.3 333.9 L521.4 332.3 L521.5 333.9 L521.6 334.2 L521.7 335.1 L521.8 333.4 L521.9 333.1 L522.1 332.6 L522.2 334.5 L522.3 335.3 L522.4 333.6 L522.5 334.7 L522.6 335.1 L522.7 335.3 L522.8 334.2 L523.0 335.2 L523.1 334.7 L523.2 333.9 L523.3 335.1 L523.4 335.3 L523.5 334.2 L523.6 335.5 L523.7 337.0 L523.8 333.9 L524.0 336.0 L524.1 336.2 L524.2 335.5 L524.3 335.9 L524.4 335.4 L524.5 336.9 L524.6 334.9 L524.7 335.7 L524.8 334.2 L524.9 336.3 L525.0 336.4 L525.2 334.6 L525.3 335.4 L525.4 336.7 L525.5 335.9 L525.6 335.3 L525.7 334.2 L525.8 336.9 L525.9 338.4 L526.0 336.3 L526.1 337.1 L526.2 337.2 L526.3 336.8 L526.4 337.1 L526.5 337.1 L526.7 336.3 L526.8 339.4 L526.9 339.7 L527.0 337.6 L527.1 339.0 L527.2 336.7 L527.3 337.3 L527.4 338.6 L527.5 336.6 L527.6 336.6 L527.7 338.1 L527.8 336.1 L527.9 339.5 L528.0 338.7 L528.1 338.3 L528.2 338.7 L528.3 337.3 L528.4 337.3 L528.5 338.9 L528.6 339.0 L528.7 338.4 L528.8 338.2 L528.9 337.8 L529.0 339.6 L529.1 337.0 L529.3 337.6 L529.4 337.9 L529.5 337.1 L529.6 337.3 L529.7 337.6 L529.8 339.5 L529.9 340.2 L530.0 338.9 L530.1 337.2 L530.2 338.1 L530.3 338.6 L530.4 338.5 L530.5 338.4 L530.6 339.2 L530.7 337.1 L530.8 338.3 L530.9 339.1 L531.0 339.5 L531.1 339.2 L531.2 339.0 L531.3 338.9 L531.4 338.4 L531.5 339.1 L531.6 338.9 L531.7 338.5 L531.8 340.2 L531.9 340.3 L532.0 338.9 L532.1 339.8 L532.2 340.4 L532.3 339.6 L532.4 339.5 L532.4 339.8 L532.5 337.9 L532.6 338.1 L532.7 339.9 L532.8 339.7 L532.9 340.8 L533.0 339.1 L533.1 340.6 L533.2 340.6 L533.3 341.4 L533.4 338.9 L533.5 339.4 L533.6 340.0 L533.7 340.0 L533.8 338.9 L533.9 339.3 L534.0 338.7 L534.1 341.9 L534.2 339.8 L534.3 339.9 L534.4 339.4 L534.5 340.0 L534.6 340.7 L534.7 339.7 L534.8 340.0 L534.9 341.9 L534.9 340.7 L535.0 340.0 L535.1 339.3 L535.2 339.6 L535.3 338.9 L535.4 339.7 L535.5 338.8 L535.6 338.6 L535.7 338.9 L535.8 338.2 L535.9 339.2 L536.0 341.2 L536.1 338.3 L536.2 337.3 L536.3 339.6 L536.4 338.6 L536.4 340.4 L536.5 338.9 L536.6 339.3 L536.7 337.7 L536.8 336.8 L536.9 338.0 L537.0 338.7 L537.1 337.3 L537.2 336.5 L537.3 337.3 L537.4 337.4 L537.5 337.4 L537.5 337.6 L537.6 339.7 L537.7 337.5 L537.8 337.0 L537.9 336.4 L538.0 338.0 L538.1 335.8 L538.2 338.4 L538.3 337.0 L538.4 335.6 L538.5 337.1 L538.5 336.7 L538.6 337.8 L538.7 335.3 L538.8 336.8 L538.9 336.5 L539.0 337.3 L539.1 335.5 L539.2 335.8 L539.3 338.4 L539.3 337.2 L539.4 335.4 L539.5 337.1 L539.6 336.1 L539.7 336.3 L539.8 335.9 L539.9 337.9 L540.0 336.6 L540.1 337.3 L540.1 337.3 L540.2 335.9 L540.3 336.6 L540.4 338.1 L540.5 336.0 L540.6 337.7 L540.7 337.4 L540.8 338.2 L540.8 338.3 L540.9 338.5 L541.0 337.8 L541.1 338.1 L541.2 337.3 L541.3 337.5 L541.4 338.8 L541.4 337.5 L541.5 339.0 L541.6 339.1 L541.7 337.5 L541.8 338.8 L541.9 337.6 L542.0 338.7 L542.1 337.8 L542.1 338.8 L542.2 338.7 L542.3 337.7 L542.4 340.5 L542.5 339.6 L542.6 337.4 L542.6 339.2 L542.7 338.6 L542.8 340.8 L542.9 339.0 L543.0 339.5 L543.1 339.0 L543.2 339.8 L543.2 338.8 L543.3 338.5 L543.4 339.0 L543.5 339.1 L543.6 340.1 L543.7 339.6 L543.7 339.2 L543.8 339.3 L543.9 338.9 L544.0 339.9 L544.1 338.0 L544.2 339.7 L544.2 341.0 L544.3 339.7 L544.4 339.5 L544.5 340.2 L544.6 339.4 L544.7 339.6 L544.7 340.9 L544.8 339.8 L544.9 342.2 L545.0 340.9 L545.1 340.5 L545.2 340.2 L545.2 340.7 L545.3 339.1 L545.4 341.5 L545.5 342.2 L545.6 342.1 L545.6 341.4 L545.7 342.5 L545.8 342.7 L545.9 342.1 L546.0 342.7 L546.1 343.5 L546.1 343.1 L546.2 342.6 L546.3 343.1 L546.4 343.4 L546.5 341.9 L546.5 343.7 L546.6 343.6 L546.7 341.9 L546.8 342.5 L546.9 345.8 L546.9 344.4 L547.0 345.7 L547.1 344.3 L547.2 346.2 L547.3 345.5 L547.3 344.5 L547.4 345.6 L547.5 346.9 L547.6 347.8 L547.7 346.3 L547.7 345.6 L547.8 345.3 L547.9 346.9 L548.0 347.4 L548.1 346.7 L548.1 346.7 L548.2 347.6 L548.3 347.5 L548.4 347.6 L548.4 346.0 L548.5 347.2 L548.6 349.4 L548.7 347.8 L548.8 350.2 L548.8 348.5 L548.9 348.1 L549.0 348.7 L549.1 349.2 L549.1 348.2 L549.2 349.2 L549.3 348.7 L549.4 350.6 L549.5 349.0 L549.5 349.7 L549.6 348.4 L549.7 348.7 L549.8 350.0 L549.8 349.4 L549.9 350.1 L550.0 350.7 L550.1 351.1 L550.2 349.5 L550.2 350.8 L550.3 351.7 L550.4 350.6 L550.5 350.2 L550.5 350.9 L550.6 353.1 L550.7 351.8 L550.8 353.4 L550.8 351.8 L550.9 353.3 L551.0 351.1 L551.1 352.3 L551.1 352.8 L551.2 354.4 L551.3 353.4 L551.4 354.1 L551.4 352.9 L551.5 353.0 L551.6 354.7 L551.7 355.0 L551.7 355.0 L551.8 355.1 L551.9 353.7 L552.0 356.2 L552.0 354.6 L552.1 355.7 L552.2 355.4 L552.3 353.3 L552.3 353.2 L552.4 353.7 L552.5 355.2 L552.6 356.4 L552.6 355.3 L552.7 356.5 L552.8 354.7 L552.9 355.4 L552.9 355.3 L553.0 356.3 L553.1 355.4 L553.2 356.5 L553.2 357.2 L553.3 356.4 L553.4 356.2 L553.4 356.7 L553.5 356.2 L553.6 356.5 L553.7 358.3 L553.7 358.0 L553.8 356.5 L553.9 357.7 L554.0 358.5 L554.0 359.0 L554.1 359.0 L554.2 359.4 L554.3 358.6 L554.3 358.8 L554.4 358.7 L554.5 360.1 L554.5 360.0 L554.6 361.0 L554.7 360.5 L554.8 358.9 L554.8 358.4 L554.9 358.6 L555.0 359.2 L555.0 360.7 L555.1 359.0 L555.2 358.6 L555.3 360.4 L555.3 361.4 L555.4 361.6 L555.5 362.5 L555.5 361.1 L555.6 360.7 L555.7 361.1 L555.8 360.3 L555.8 361.1 L555.9 362.9 L556.0 363.8 L556.0 363.2 L556.1 362.5 L556.2 362.1 L556.3 362.7 L556.3 360.9 L556.4 363.2 L556.5 363.5 L556.5 362.8 L556.6 363.1 L556.7 361.7 L556.7 364.0 L556.8 364.2 L556.9 361.1 L557.0 363.2 L557.0 364.1 L557.1 365.5 L557.2 363.3 L557.2 364.2 L557.3 365.7 L557.4 364.9 L557.4 364.4 L557.5 364.3 L557.6 364.9 L557.6 364.3 L557.7 366.0 L557.8 364.4 L557.9 365.9 L557.9 366.3 L558.0 366.7 L558.1 365.9 L558.1 365.9 L558.2 366.3 L558.3 366.2 L558.3 367.3 L558.4 366.3 L558.5 368.3 L558.5 369.2 L558.6 366.2 L558.7 367.3 L558.7 366.0 L558.8 367.9 L558.9 367.7 L558.9 367.2 L559.0 366.6 L559.1 367.7 L559.2 369.6 L559.2 369.4 L559.3 368.4 L559.4 367.6 L559.4 368.3 L559.5 367.7 L559.6 367.3 L559.6 367.8 L559.7 369.3 L559.8 369.2 L559.8 369.2 L559.9 368.1 L560.0 368.0 L560.0 370.3 L560.1 369.2 L560.2 370.7 L560.2 369.0 L560.3 370.7 L560.4 370.2 L560.4 369.7 L560.5 369.8 L560.6 372.1 L560.6 371.3 L560.7 370.3 L560.8 370.8 L560.8 369.4 L560.9 372.5 L561.0 372.3 L561.0 370.8 L561.1 371.7 L561.2 368.9 L561.2 372.4 L561.3 372.1 L561.4 372.0 L561.4 372.6 L561.5 372.3 L561.6 371.2 L561.6 371.6 L561.7 372.2 L561.7 373.3 L561.8 372.6 L561.9 372.1 L561.9 373.1 L562.0 371.8 L562.1 374.9 L562.1 373.4 L562.2 372.4 L562.3 373.5 L562.3 374.5 L562.4 374.1 L562.5 375.6 L562.5 372.6 L562.6 375.4 L562.7 374.1 L562.7 375.0 L562.8 375.9 L562.9 373.4 L562.9 373.3 L563.0 374.3 L563.0 373.3 L563.1 373.1 L563.2 375.1 L563.2 376.2 L563.3 374.8 L563.4 375.8 L563.4 378.8 L563.5 375.9 L563.6 375.5 L563.6 375.7 L563.7 376.4 L563.7 375.9 L563.8 376.9 L563.9 376.6 L563.9 377.4 L564.0 376.8 L564.1 376.8 L564.1 376.1 L564.2 375.9 L564.3 377.0 L564.3 377.1 L564.4 377.8 L564.4 377.6 L564.5 377.5 L564.6 380.0 L564.6 378.4 L564.7 379.4 L564.8 377.5 L564.8 379.5 L564.9 379.8 L564.9 379.3 L565.0 378.2 L565.1 380.3 L565.1 378.6 L565.2 378.0 L565.3 378.1 L565.3 379.8 L565.4 379.4 L565.4 380.7 L565.5 380.7 L565.6 381.5 L565.6 380.7 L565.7 380.7 L565.8 380.7 L565.8 380.1 L565.9 380.2 L565.9 380.5 L566.0 381.5 L566.1 380.6 L566.1 381.5 L566.2 382.7 L566.2 379.7 L566.3 381.2 L566.4 381.2 L566.4 382.2 L566.5 381.0 L566.6 381.9 L566.6 384.7 L566.7 381.5 L566.7 382.8 L566.8 383.2 L566.9 382.9 L566.9 382.2 L567.0 384.4 L567.0 381.9 L567.1 382.9 L567.2 383.7 L567.2 383.4" fill="none" stroke="#ff7f0e" stroke-opacity="0.7" stroke-width="4.17" stroke-linejoin="round" stroke-linecap="square"/>
</g>
<rect x="102.1" y="45.9" width="464.8" height="461.9" fill="none" stroke="#000" stroke-width="1.67" stroke-linejoin="miter"/>
<line x1="94.81" y1="48.00" x2="102.10" y2="48.00" stroke="#000" stroke-width="1.67" stroke-linecap="butt"/>
<text transform="translate(44.77 56.60) scale(1.13 1)" class="t">−10</text>
<line x1="94.81" y1="105.71" x2="102.10" y2="105.71" stroke="#000" stroke-width="1.67" stroke-linecap="butt"/>
<text transform="translate(44.77 114.31) scale(1.13 1)" class="t">−15</text>
<line x1="94.81" y1="163.42" x2="102.10" y2="163.42" stroke="#000" stroke-width="1.67" stroke-linecap="butt"/>
<text transform="translate(44.77 172.02) scale(1.13 1)" class="t">−20</text>
<line x1="94.81" y1="221.13" x2="102.10" y2="221.13" stroke="#000" stroke-width="1.67" stroke-linecap="butt"/>
<text transform="translate(44.77 229.73) scale(1.13 1)" class="t">−25</text>
<line x1="94.81" y1="278.84" x2="102.10" y2="278.84" stroke="#000" stroke-width="1.67" stroke-linecap="butt"/>
<text transform="translate(44.77 287.44) scale(1.13 1)" class="t">−30</text>
<line x1="94.81" y1="336.55" x2="102.10" y2="336.55" stroke="#000" stroke-width="1.67" stroke-linecap="butt"/>
<text transform="translate(44.77 345.15) scale(1.13 1)" class="t">−35</text>
<line x1="94.81" y1="394.26" x2="102.10" y2="394.26" stroke="#000" stroke-width="1.67" stroke-linecap="butt"/>
<text transform="translate(44.77 402.86) scale(1.13 1)" class="t">−40</text>
<line x1="94.81" y1="451.97" x2="102.10" y2="451.97" stroke="#000" stroke-width="1.67" stroke-linecap="butt"/>
<text transform="translate(44.77 460.57) scale(1.13 1)" class="t">−45</text>
<line x1="101.88" y1="507.8" x2="101.88" y2="512.70" stroke="#000" stroke-width="1.25"/>
<line x1="131.38" y1="507.8" x2="131.38" y2="512.70" stroke="#000" stroke-width="1.25"/>
<line x1="152.31" y1="507.8" x2="152.31" y2="512.70" stroke="#000" stroke-width="1.25"/>
<line x1="168.54" y1="507.8" x2="168.54" y2="512.70" stroke="#000" stroke-width="1.25"/>
<line x1="181.80" y1="507.8" x2="181.80" y2="512.70" stroke="#000" stroke-width="1.25"/>
<line x1="193.01" y1="507.8" x2="193.01" y2="512.70" stroke="#000" stroke-width="1.25"/>
<line x1="202.73" y1="507.8" x2="202.73" y2="512.70" stroke="#000" stroke-width="1.25"/>
<line x1="211.30" y1="507.8" x2="211.30" y2="512.70" stroke="#000" stroke-width="1.25"/>
<line x1="218.96" y1="507.8" x2="218.96" y2="515.09" stroke="#000" stroke-width="1.67"/>
<line x1="269.38" y1="507.8" x2="269.38" y2="512.70" stroke="#000" stroke-width="1.25"/>
<line x1="298.88" y1="507.8" x2="298.88" y2="512.70" stroke="#000" stroke-width="1.25"/>
<line x1="319.81" y1="507.8" x2="319.81" y2="512.70" stroke="#000" stroke-width="1.25"/>
<line x1="336.04" y1="507.8" x2="336.04" y2="512.70" stroke="#000" stroke-width="1.25"/>
<line x1="349.30" y1="507.8" x2="349.30" y2="512.70" stroke="#000" stroke-width="1.25"/>
<line x1="360.51" y1="507.8" x2="360.51" y2="512.70" stroke="#000" stroke-width="1.25"/>
<line x1="370.23" y1="507.8" x2="370.23" y2="512.70" stroke="#000" stroke-width="1.25"/>
<line x1="378.80" y1="507.8" x2="378.80" y2="512.70" stroke="#000" stroke-width="1.25"/>
<line x1="386.46" y1="507.8" x2="386.46" y2="515.09" stroke="#000" stroke-width="1.67"/>
<line x1="436.88" y1="507.8" x2="436.88" y2="512.70" stroke="#000" stroke-width="1.25"/>
<line x1="466.38" y1="507.8" x2="466.38" y2="512.70" stroke="#000" stroke-width="1.25"/>
<line x1="487.31" y1="507.8" x2="487.31" y2="512.70" stroke="#000" stroke-width="1.25"/>
<line x1="503.54" y1="507.8" x2="503.54" y2="512.70" stroke="#000" stroke-width="1.25"/>
<line x1="516.80" y1="507.8" x2="516.80" y2="512.70" stroke="#000" stroke-width="1.25"/>
<line x1="528.01" y1="507.8" x2="528.01" y2="512.70" stroke="#000" stroke-width="1.25"/>
<line x1="537.73" y1="507.8" x2="537.73" y2="512.70" stroke="#000" stroke-width="1.25"/>
<line x1="546.30" y1="507.8" x2="546.30" y2="512.70" stroke="#000" stroke-width="1.25"/>
<line x1="553.96" y1="507.8" x2="553.96" y2="515.09" stroke="#000" stroke-width="1.67"/>
<text transform="translate(202.35 542.7)" class="t">10</text>
<text transform="translate(228.20 534.7) scale(0.93 1)" class="ts">2</text>
<text transform="translate(369.85 542.7)" class="t">10</text>
<text transform="translate(395.70 534.7) scale(0.93 1)" class="ts">3</text>
<text transform="translate(537.35 542.7)" class="t">10</text>
<text transform="translate(563.20 534.7) scale(0.93 1)" class="ts">4</text>
<text transform="translate(203.69 33.9) scale(1.072 1)" class="title">Magnitude Spectrum</text>
<text transform="translate(259.20 572.8) scale(1.026 1)" class="t">Frequency(Hz)</text>
<text transform="translate(32.0 357.55) rotate(-90) scale(1.058 1)" class="t">Magnitude(dB)</text>
<rect x="302.13" y="55.96" width="254.77" height="66.84" rx="3.5" ry="3.5" fill="#fff" fill-opacity="0.8" stroke="#cccccc" stroke-width="1.8"/>
<line x1="310.1" y1="72.9" x2="351.8" y2="72.9" stroke="#1f77b4" stroke-width="4.17" stroke-linecap="square"/>
<line x1="310.1" y1="104" x2="351.8" y2="104" stroke="#ff7f0e" stroke-opacity="0.7" stroke-width="4.17" stroke-linecap="square"/>
<text transform="translate(367.76 81.0) scale(1.05 1)" class="t">Pred. (smoothed)</text>
<text transform="translate(367.85 111.8) scale(1.05 1)" class="t">GT (smoothed)</text>
</svg></body></html>
